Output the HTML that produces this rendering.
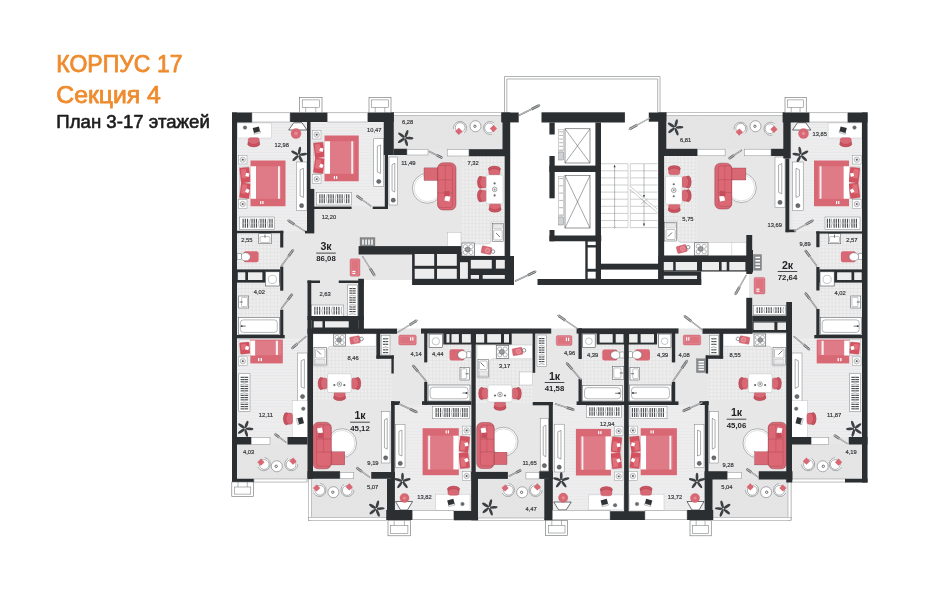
<!DOCTYPE html>
<html lang="ru"><head><meta charset="utf-8"><title>КОРПУС 17 — Секция 4</title>
<style>
html,body{margin:0;padding:0;background:#fff;}
body{width:941px;height:600px;overflow:hidden;font-family:"Liberation Sans",sans-serif;}
svg{display:block;will-change:transform;opacity:0.999;}
svg text{font-family:"Liberation Sans",sans-serif;}
</style></head><body>
<svg width="941" height="600" viewBox="0 0 941 600">
<defs>
<pattern id="plank" width="40" height="3.1" patternUnits="userSpaceOnUse"><rect width="40" height="3.1" fill="#ededee"/><path d="M0 0.2H40" stroke="#dfdfe0" stroke-width="0.4"/></pattern>
<pattern id="tile" width="3.6" height="3.6" patternUnits="userSpaceOnUse"><rect width="3.6" height="3.6" fill="#ededee"/><path d="M0 0.2H3.6M0.2 0V3.6" stroke="#d3d3d4" stroke-width="0.4"/></pattern>
<pattern id="hatch" width="2.6" height="2.6" patternUnits="userSpaceOnUse" patternTransform="rotate(-45)"><rect width="2.6" height="2.6" fill="#e3e3e4"/><line x1="0" y1="0.4" x2="2.6" y2="0.4" stroke="#e9e9ea" stroke-width="0.7"/></pattern>
</defs>
<rect x="0" y="0" width="941" height="600" fill="#ffffff"/>
<text x="56.3" y="71.5" font-size="23.3" font-weight="normal" text-anchor="start" fill="#ee8b2d" stroke="#ee8b2d" stroke-width="0.75" stroke-linejoin="round" textLength="126.2" lengthAdjust="spacingAndGlyphs">КОРПУС 17</text>
<text x="56.3" y="103.3" font-size="23.3" font-weight="normal" text-anchor="start" fill="#ee8b2d" stroke="#ee8b2d" stroke-width="0.75" stroke-linejoin="round" textLength="104.5" lengthAdjust="spacingAndGlyphs">Секция 4</text>
<text x="56.3" y="127.6" font-size="18.2" font-weight="normal" text-anchor="start" fill="#1d1d1d" stroke="#1d1d1d" stroke-width="0.6" stroke-linejoin="round" textLength="153.5" lengthAdjust="spacingAndGlyphs">План 3-17 этажей</text>
<path d="M232 112.5H867.5V482.5H792V520H310V482.5H232Z" fill="#e7e7e8"/>
<rect x="510" y="100" width="148" height="186" fill="#fff"/>
<rect x="363.9" y="285" width="382.4" height="43.5" fill="#fff"/>
<rect x="363.9" y="280" width="47.8" height="6" fill="#fff"/>
<rect x="701.2" y="271.5" width="47.8" height="26.5" fill="#fff"/>
<rect x="237" y="122" width="70" height="109" fill="url(#plank)"/>
<rect x="310.5" y="122" width="73.5" height="84" fill="url(#plank)"/>
<rect x="237" y="338.3" width="70.5" height="98.7" fill="url(#plank)"/>
<rect x="395" y="405" width="76.25" height="106" fill="url(#plank)"/>
<rect x="553" y="404.5" width="69.5" height="106.5" fill="url(#plank)"/>
<rect x="792.5" y="122" width="70" height="109" fill="url(#plank)"/>
<rect x="792" y="338.3" width="70.5" height="98.7" fill="url(#plank)"/>
<rect x="628.25" y="405" width="76.25" height="106" fill="url(#plank)"/>
<rect x="237" y="233" width="43" height="37" fill="url(#tile)"/>
<rect x="237" y="282.6" width="43.2" height="52.4" fill="url(#tile)"/>
<rect x="425.5" y="343" width="45.75" height="58" fill="url(#tile)"/>
<rect x="313" y="346" width="78.5" height="55" fill="url(#tile)"/>
<rect x="462" y="156" width="43" height="100" fill="url(#tile)"/>
<rect x="819.5" y="233" width="43" height="37" fill="url(#tile)"/>
<rect x="819.3" y="282.6" width="43.2" height="52.4" fill="url(#tile)"/>
<rect x="628.25" y="343" width="45.75" height="58" fill="url(#tile)"/>
<rect x="708" y="346" width="78.5" height="55" fill="url(#tile)"/>
<rect x="582" y="343" width="40.5" height="57" fill="url(#tile)"/>
<rect x="476" y="358" width="56.6" height="45" fill="url(#tile)"/>
<rect x="664" y="156" width="33" height="100" fill="url(#tile)"/>
<rect x="394" y="113" width="109" height="36" fill="url(#hatch)"/>
<rect x="666" y="113" width="118" height="36" fill="url(#hatch)"/>
<rect x="237" y="444.5" width="70.5" height="34.5" fill="url(#hatch)"/>
<rect x="311.5" y="479" width="75.5" height="38.5" fill="url(#hatch)"/>
<rect x="478" y="478.9" width="66.3" height="39.1" fill="url(#hatch)"/>
<rect x="792" y="444.5" width="70.5" height="34.5" fill="url(#hatch)"/>
<rect x="712.5" y="479" width="75.5" height="38.5" fill="url(#hatch)"/>
<g id="gL"><rect x="237.6" y="123" width="33.8" height="15" fill="#fff" stroke="#b9bbbd" stroke-width="0.4"/><g transform="translate(256.5,130) rotate(-15)"><rect x="-3.2" y="-2.8" width="6.4" height="5.6" fill="#2f3234"/><rect x="-3.2" y="2.2" width="6.4" height="1.4" fill="#fff" stroke="#4a4e50" stroke-width="0.3"/></g><circle cx="245" cy="127.6" r="1.8" fill="#6a6d6f" stroke="#4a4e50" stroke-width="0.3"/>
<g transform="translate(253.75,142.5) rotate(180)"><rect x="-5.6" y="-3.8" width="11.2" height="8.6" fill="#d96875" stroke="#a93f4c" stroke-width="0.35" rx="2.4"/><path d="M-6.2 -2Q0 -7 6.2 -2L5.4 0.2Q0 -4.2 -5.4 0.2Z" fill="#cf5360" stroke="#8f3541" stroke-width="0.35"/></g>
<path d="M288.7 130H307L302 122.75H293.7Z" fill="#fff" stroke="#2f3234" stroke-width="0.7"/>
<circle cx="296" cy="133.6" r="5" fill="#d96875" stroke="#c14f5d" stroke-width="0.3"/><circle cx="296" cy="133.6" r="1.75" fill="#e98a94"/>
<g transform="translate(298.75,155) rotate(10)"><ellipse cx="0" cy="-4.59" rx="1.35" ry="3.85" fill="#3d4042" transform="rotate(0)"/><ellipse cx="0" cy="-4.59" rx="1.35" ry="3.85" fill="#3d4042" transform="rotate(72)"/><ellipse cx="0" cy="-4.59" rx="1.35" ry="3.85" fill="#3d4042" transform="rotate(144)"/><ellipse cx="0" cy="-4.59" rx="1.35" ry="3.85" fill="#3d4042" transform="rotate(216)"/><ellipse cx="0" cy="-4.59" rx="1.35" ry="3.85" fill="#3d4042" transform="rotate(288)"/><circle r="1.5" fill="#35383a"/><circle r="0.7" fill="#fff"/></g>
<rect x="239.5" y="167" width="11" height="31.25" fill="#f4f4f5" stroke="#9a9c9e" stroke-width="0.35"/><g transform="translate(245.1,175.03) rotate(-6)"><rect x="-4.8" y="-7.48" width="9.6" height="14.95" fill="#d4525f" stroke="#b84452" stroke-width="0.3" rx="0.8"/><rect x="-3.6" y="-5.98" width="4.9" height="8.95" fill="#e0717c" rx="0.5"/><rect x="0.6" y="-1.8" width="3.4" height="3.6" fill="#fff" transform="rotate(20 2.3 0)"/></g><g transform="translate(245.1,190.62) rotate(7)"><rect x="-4.8" y="-7.48" width="9.6" height="14.95" fill="#d4525f" stroke="#b84452" stroke-width="0.3" rx="0.8"/><rect x="-3.6" y="-5.98" width="4.9" height="8.95" fill="#e0717c" rx="0.5"/><rect x="0.6" y="-1.8" width="3.4" height="3.6" fill="#fff" transform="rotate(20 2.3 0)"/></g><rect x="250.5" y="160.5" width="35" height="45.75" fill="#d96875"/><rect x="250.5" y="166.25" width="5.6" height="32.5" fill="#fff"/><rect x="256.1" y="166.25" width="25.15" height="32.5" fill="#df7b86"/><rect x="278" y="166.25" width="1.9" height="32.5" fill="#f8eeef"/><rect x="260.1" y="201.05" width="1.2" height="3" fill="#fff"/><rect x="262.3" y="201.05" width="1.2" height="3" fill="#fff"/><rect x="238.4" y="155.4" width="8.6" height="8.6" fill="#fff" stroke="#8a8c8e" stroke-width="0.45"/><circle cx="242.7" cy="159.7" r="2.7" fill="#fff" stroke="#6a6d6f" stroke-width="0.45"/><line x1="242.7" y1="159.7" x2="245.2" y2="159.7" stroke="#8a8c8e" stroke-width="0.3" /><line x1="242.7" y1="159.7" x2="243.95" y2="161.87" stroke="#8a8c8e" stroke-width="0.3" /><line x1="242.7" y1="159.7" x2="241.45" y2="161.87" stroke="#8a8c8e" stroke-width="0.3" /><line x1="242.7" y1="159.7" x2="240.2" y2="159.7" stroke="#8a8c8e" stroke-width="0.3" /><line x1="242.7" y1="159.7" x2="241.45" y2="157.53" stroke="#8a8c8e" stroke-width="0.3" /><line x1="242.7" y1="159.7" x2="243.95" y2="157.53" stroke="#8a8c8e" stroke-width="0.3" /><circle cx="242.7" cy="159.7" r="0.9" fill="#55595b"/><rect x="238.4" y="199.75" width="8.6" height="8.6" fill="#fff" stroke="#8a8c8e" stroke-width="0.45"/><circle cx="242.7" cy="204.05" r="2.7" fill="#fff" stroke="#6a6d6f" stroke-width="0.45"/><line x1="242.7" y1="204.05" x2="245.2" y2="204.05" stroke="#8a8c8e" stroke-width="0.3" /><line x1="242.7" y1="204.05" x2="243.95" y2="206.22" stroke="#8a8c8e" stroke-width="0.3" /><line x1="242.7" y1="204.05" x2="241.45" y2="206.22" stroke="#8a8c8e" stroke-width="0.3" /><line x1="242.7" y1="204.05" x2="240.2" y2="204.05" stroke="#8a8c8e" stroke-width="0.3" /><line x1="242.7" y1="204.05" x2="241.45" y2="201.88" stroke="#8a8c8e" stroke-width="0.3" /><line x1="242.7" y1="204.05" x2="243.95" y2="201.88" stroke="#8a8c8e" stroke-width="0.3" /><circle cx="242.7" cy="204.05" r="0.9" fill="#55595b"/>
<rect x="296.3" y="162" width="10.6" height="48.5" fill="#fff" stroke="#7d8082" stroke-width="0.5"/><path d="M300.12 169.76L303.51 168.31L303.51 197.41L300.12 195.95Z" fill="#fff" stroke="#55595b" stroke-width="0.5"/><circle cx="301.6" cy="205.65" r="2.1" fill="#6a6d6f" stroke="#35383a" stroke-width="0.4"/>
<rect x="239.5" y="217" width="35" height="12.5" fill="#fff" stroke="#7d8082" stroke-width="0.5"/><line x1="243.1" y1="218.8" x2="243.1" y2="227.7" stroke="#4a4e50" stroke-width="1.15" /><line x1="245.33" y1="218.8" x2="245.33" y2="227.7" stroke="#4a4e50" stroke-width="1.15" /><line x1="247.56" y1="218.8" x2="247.56" y2="227.7" stroke="#4a4e50" stroke-width="1.15" /><path d="M250.39 218.6Q248.89 223.25 250.39 227.9" fill="none" stroke="#55595b" stroke-width="0.5"/><line x1="252.02" y1="218.8" x2="252.02" y2="227.7" stroke="#4a4e50" stroke-width="1.15" /><line x1="254.25" y1="218.8" x2="254.25" y2="227.7" stroke="#4a4e50" stroke-width="1.15" /><line x1="256.48" y1="218.8" x2="256.48" y2="227.7" stroke="#4a4e50" stroke-width="1.15" /><path d="M259.32 218.6Q257.82 223.25 259.32 227.9" fill="none" stroke="#55595b" stroke-width="0.5"/><line x1="260.95" y1="218.8" x2="260.95" y2="227.7" stroke="#4a4e50" stroke-width="1.15" /><line x1="263.18" y1="218.8" x2="263.18" y2="227.7" stroke="#4a4e50" stroke-width="1.15" /><line x1="265.41" y1="218.8" x2="265.41" y2="227.7" stroke="#4a4e50" stroke-width="1.15" /><path d="M268.24 218.6Q266.74 223.25 268.24 227.9" fill="none" stroke="#55595b" stroke-width="0.5"/><line x1="269.87" y1="218.8" x2="269.87" y2="227.7" stroke="#4a4e50" stroke-width="1.15" /><line x1="272.1" y1="218.8" x2="272.1" y2="227.7" stroke="#4a4e50" stroke-width="1.15" /><line x1="240.5" y1="223.25" x2="273.5" y2="223.25" stroke="#d8d9da" stroke-width="0.5" />
<rect x="258.75" y="233.75" width="12.5" height="10" fill="#fff" stroke="#4a4e50" stroke-width="0.5"/><rect x="260.05" y="236.55" width="9.9" height="6" fill="#fff" stroke="#4a4e50" stroke-width="0.35" rx="1"/><line x1="265" y1="234.55" x2="265" y2="237.75" stroke="#3a3d3f" stroke-width="0.7" />
<rect x="243.6" y="251.3" width="15" height="11" fill="#d96875" rx="2.2"/><ellipse cx="245.6" cy="256.8" rx="4.8" ry="4" fill="#fff" stroke="#4a4e50" stroke-width="0.4"/><rect x="237.1" y="253.8" width="4.1" height="6" fill="#fff" stroke="#4a4e50" stroke-width="0.4"/>
<rect x="237" y="269.4" width="43.2" height="13.2" fill="#2b2f31"/>
<rect x="237.8" y="272.3" width="7.5" height="7.7" fill="#ededee"/>
<rect x="248" y="272.3" width="14.4" height="7.7" fill="#ededee"/>
<rect x="265.3" y="271.8" width="14.2" height="14.2" fill="#fff" stroke="#4a4e50" stroke-width="0.6"/><circle cx="272.4" cy="279.4" r="4.1" fill="#fff" stroke="#8a8c8e" stroke-width="0.5"/>
<g transform="rotate(-90 243.75 302)"><rect x="237.75" y="297" width="12" height="10" fill="#fff" stroke="#4a4e50" stroke-width="0.5"/><rect x="239.05" y="299.8" width="9.4" height="6" fill="#fff" stroke="#4a4e50" stroke-width="0.35" rx="1"/><line x1="243.75" y1="297.8" x2="243.75" y2="301" stroke="#3a3d3f" stroke-width="0.7" /></g>
<rect x="238.3" y="317.7" width="41" height="16.9" fill="#fff" stroke="#4a4e50" stroke-width="0.5"/><rect x="240.3" y="319.9" width="37" height="12.5" fill="#fff" stroke="#4a4e50" stroke-width="0.4" rx="3"/><line x1="240.8" y1="326.15" x2="245.8" y2="326.15" stroke="#3a3d3f" stroke-width="0.7" /><circle cx="241.8" cy="326.15" r="0.9" fill="#3a3d3f"/>
<rect x="239" y="339.8" width="11.3" height="15.8" fill="#f4f4f5" stroke="#9a9c9e" stroke-width="0.35"/>
<g transform="translate(244.8,348.2) rotate(-5)"><rect x="-4.8" y="-5.75" width="9.6" height="11.5" fill="#d4525f" stroke="#b84452" stroke-width="0.3" rx="0.8"/><rect x="-3.6" y="-4.25" width="4.9" height="5.5" fill="#e0717c" rx="0.5"/><rect x="0.6" y="-1.8" width="3.4" height="3.6" fill="#fff" transform="rotate(20 2.3 0)"/></g>
<rect x="250.3" y="339.6" width="32.5" height="23.8" fill="#d96875"/>
<rect x="250.3" y="340.6" width="5.1" height="14.9" fill="#fff"/>
<rect x="255.4" y="340.6" width="26.1" height="14.6" fill="#df7b86"/>
<rect x="275.8" y="340.8" width="2.2" height="14.1" fill="#f8eeef"/>
<rect x="258" y="358" width="1.3" height="3.2" fill="#fff"/><rect x="260.6" y="358" width="1.3" height="3.2" fill="#fff"/>
<rect x="238.5" y="356.9" width="8.6" height="8.6" fill="#fff" stroke="#8a8c8e" stroke-width="0.45"/><circle cx="242.8" cy="361.2" r="2.7" fill="#fff" stroke="#6a6d6f" stroke-width="0.45"/><line x1="242.8" y1="361.2" x2="245.3" y2="361.2" stroke="#8a8c8e" stroke-width="0.3" /><line x1="242.8" y1="361.2" x2="244.05" y2="363.37" stroke="#8a8c8e" stroke-width="0.3" /><line x1="242.8" y1="361.2" x2="241.55" y2="363.37" stroke="#8a8c8e" stroke-width="0.3" /><line x1="242.8" y1="361.2" x2="240.3" y2="361.2" stroke="#8a8c8e" stroke-width="0.3" /><line x1="242.8" y1="361.2" x2="241.55" y2="359.03" stroke="#8a8c8e" stroke-width="0.3" /><line x1="242.8" y1="361.2" x2="244.05" y2="359.03" stroke="#8a8c8e" stroke-width="0.3" /><circle cx="242.8" cy="361.2" r="0.9" fill="#55595b"/>
<rect x="238.75" y="373.75" width="11.25" height="37.5" fill="#fff" stroke="#7d8082" stroke-width="0.5"/><line x1="240.55" y1="377.35" x2="248.2" y2="377.35" stroke="#4a4e50" stroke-width="1.15" /><line x1="240.55" y1="379.6" x2="248.2" y2="379.6" stroke="#4a4e50" stroke-width="1.15" /><line x1="240.55" y1="381.85" x2="248.2" y2="381.85" stroke="#4a4e50" stroke-width="1.15" /><path d="M240.35 384.7Q244.38 383.2 248.4 384.7" fill="none" stroke="#55595b" stroke-width="0.5"/><line x1="240.55" y1="386.35" x2="248.2" y2="386.35" stroke="#4a4e50" stroke-width="1.15" /><line x1="240.55" y1="388.6" x2="248.2" y2="388.6" stroke="#4a4e50" stroke-width="1.15" /><line x1="240.55" y1="390.85" x2="248.2" y2="390.85" stroke="#4a4e50" stroke-width="1.15" /><path d="M240.35 393.7Q244.38 392.2 248.4 393.7" fill="none" stroke="#55595b" stroke-width="0.5"/><line x1="240.55" y1="395.35" x2="248.2" y2="395.35" stroke="#4a4e50" stroke-width="1.15" /><line x1="240.55" y1="397.6" x2="248.2" y2="397.6" stroke="#4a4e50" stroke-width="1.15" /><line x1="240.55" y1="399.85" x2="248.2" y2="399.85" stroke="#4a4e50" stroke-width="1.15" /><path d="M240.35 402.7Q244.38 401.2 248.4 402.7" fill="none" stroke="#55595b" stroke-width="0.5"/><line x1="240.55" y1="404.35" x2="248.2" y2="404.35" stroke="#4a4e50" stroke-width="1.15" /><line x1="240.55" y1="406.6" x2="248.2" y2="406.6" stroke="#4a4e50" stroke-width="1.15" /><line x1="240.55" y1="408.85" x2="248.2" y2="408.85" stroke="#4a4e50" stroke-width="1.15" /><line x1="244.38" y1="374.75" x2="244.38" y2="410.25" stroke="#d8d9da" stroke-width="0.5" />
<rect x="297.5" y="353" width="10.1" height="48.4" fill="#fff" stroke="#7d8082" stroke-width="0.5"/><path d="M301.14 360.74L304.37 359.29L304.37 388.33L301.14 386.88Z" fill="#fff" stroke="#55595b" stroke-width="0.5"/><circle cx="302.55" cy="396.56" r="2.1" fill="#6a6d6f" stroke="#35383a" stroke-width="0.4"/>
<rect x="292.2" y="400.8" width="15.8" height="36.7" fill="#fff" stroke="#b9bbbd" stroke-width="0.4"/><g transform="translate(300.5,420.8) rotate(75)"><rect x="-3.2" y="-2.8" width="6.4" height="5.6" fill="#2f3234"/><rect x="-3.2" y="2.2" width="6.4" height="1.4" fill="#fff" stroke="#4a4e50" stroke-width="0.3"/></g><circle cx="303.3" cy="408.7" r="1.8" fill="#6a6d6f" stroke="#4a4e50" stroke-width="0.3"/>
<g transform="translate(287.8,418.7) rotate(-90)"><rect x="-5.6" y="-3.8" width="11.2" height="8.6" fill="#d96875" stroke="#a93f4c" stroke-width="0.35" rx="2.4"/><path d="M-6.2 -2Q0 -7 6.2 -2L5.4 0.2Q0 -4.2 -5.4 0.2Z" fill="#cf5360" stroke="#8f3541" stroke-width="0.35"/></g>
<g transform="translate(245,428.75) rotate(20)"><ellipse cx="0" cy="-4.59" rx="1.35" ry="3.85" fill="#3d4042" transform="rotate(0)"/><ellipse cx="0" cy="-4.59" rx="1.35" ry="3.85" fill="#3d4042" transform="rotate(72)"/><ellipse cx="0" cy="-4.59" rx="1.35" ry="3.85" fill="#3d4042" transform="rotate(144)"/><ellipse cx="0" cy="-4.59" rx="1.35" ry="3.85" fill="#3d4042" transform="rotate(216)"/><ellipse cx="0" cy="-4.59" rx="1.35" ry="3.85" fill="#3d4042" transform="rotate(288)"/><circle r="1.5" fill="#35383a"/><circle r="0.7" fill="#fff"/></g>
<g transform="translate(263.8,464.2) rotate(125)"><path d="M-5.6 3.2A6.45 6.45 0 1 1 5.6 3.2" fill="#fff" stroke="#7d8082" stroke-width="0.6"/><circle cx="0" cy="-0.5" r="4.9" fill="#fff" stroke="#6a6d6f" stroke-width="0.5"/></g><path d="M260.93 458.59L264.53 462.19L260.93 465.79L257.33 462.19Z" fill="#d96875"/><g transform="translate(291.3,464.2) rotate(-150)"><path d="M-5.6 3.2A6.45 6.45 0 1 1 5.6 3.2" fill="#fff" stroke="#7d8082" stroke-width="0.6"/><circle cx="0" cy="-0.5" r="4.9" fill="#fff" stroke="#6a6d6f" stroke-width="0.5"/></g><path d="M293.05 457.57L296.65 461.17L293.05 464.77L289.45 461.17Z" fill="#d96875"/><circle cx="276.8" cy="466.3" r="5.5" fill="#fff" stroke="#6a6d6f" stroke-width="0.55"/><circle cx="276.2" cy="466.3" r="1.2" fill="#fff" stroke="#35383a" stroke-width="0.7"/></g>
<use href="#gL" transform="translate(1099.5,0) scale(-1,1)"/>
<g id="gA"><path d="M313 333.75H376.25V346.25H331Q327.5 346.25 327.5 350V366H313Z" fill="#fff" stroke="#a9abad" stroke-width="0.4"/>
<rect x="333.75" y="334" width="11.75" height="12" fill="#fff" stroke="#4a4e50" stroke-width="0.6"/><circle cx="337.04" cy="337.36" r="2" fill="#fff" stroke="#4a4e50" stroke-width="0.4"/><circle cx="342.21" cy="337.36" r="2" fill="#fff" stroke="#4a4e50" stroke-width="0.4"/><circle cx="337.04" cy="342.64" r="2" fill="#fff" stroke="#4a4e50" stroke-width="0.4"/><circle cx="342.21" cy="342.64" r="2" fill="#fff" stroke="#4a4e50" stroke-width="0.4"/><circle cx="339.04" cy="340" r="2.35" fill="#9a9c9e" stroke="#4a4e50" stroke-width="0.4"/>
<g transform="translate(355,340) rotate(-10)"><rect x="-5" y="-3.6" width="10" height="7.2" fill="#d96875" stroke="#b84452" stroke-width="0.3" rx="1"/><circle cx="1" cy="0" r="2.2" fill="#df7b86" stroke="#f3c3c8" stroke-width="0.4"/><circle cx="6.6" cy="0" r="1.8" fill="none" stroke="#55595b" stroke-width="0.6"/></g>
<rect x="314" y="347.5" width="12.5" height="17.5" fill="#fff" stroke="#4a4e50" stroke-width="0.5"/><rect x="315.5" y="349" width="9.5" height="9" fill="#fff" stroke="#4a4e50" stroke-width="0.35" rx="1"/><line x1="317" y1="350.5" x2="321" y2="354.5" stroke="#3a3d3f" stroke-width="0.7" /><rect x="315.5" y="359.5" width="9.5" height="4.5" fill="#e9e9ea" stroke="#9a9c9e" stroke-width="0.3"/>
<rect x="381.2" y="335.2" width="8.8" height="19.8" fill="#fff" stroke="#7d8082" stroke-width="0.5"/><line x1="383" y1="338.8" x2="388.2" y2="338.8" stroke="#4a4e50" stroke-width="1.15" /><line x1="383" y1="341.56" x2="388.2" y2="341.56" stroke="#4a4e50" stroke-width="1.15" /><line x1="383" y1="344.32" x2="388.2" y2="344.32" stroke="#4a4e50" stroke-width="1.15" /><path d="M382.8 347.68Q385.6 346.18 388.4 347.68" fill="none" stroke="#55595b" stroke-width="0.5"/><line x1="383" y1="349.84" x2="388.2" y2="349.84" stroke="#4a4e50" stroke-width="1.15" /><line x1="383" y1="352.6" x2="388.2" y2="352.6" stroke="#4a4e50" stroke-width="1.15" /><line x1="385.6" y1="336.2" x2="385.6" y2="354" stroke="#d8d9da" stroke-width="0.5" />
<rect x="398.75" y="335" width="17.5" height="10" fill="#dc7480" stroke="#c55764" stroke-width="0.35" rx="1.5"/><rect x="399.95" y="336.2" width="15.1" height="7.6" fill="none" stroke="#eaa3ab" stroke-width="0.35" rx="1"/><rect x="410.05" y="337.2" width="1.2" height="3.4" fill="#fff"/><rect x="412.25" y="337.2" width="1.2" height="3.4" fill="#fff"/>
<g transform="translate(322.5,383.5) rotate(-90)"><rect x="-5.6" y="-3.8" width="11.2" height="8.6" fill="#d96875" stroke="#a93f4c" stroke-width="0.35" rx="2.4"/><path d="M-6.2 -2Q0 -7 6.2 -2L5.4 0.2Q0 -4.2 -5.4 0.2Z" fill="#cf5360" stroke="#8f3541" stroke-width="0.35"/></g>
<g transform="translate(356.4,383.5) rotate(90)"><rect x="-5.6" y="-3.8" width="11.2" height="8.6" fill="#d96875" stroke="#a93f4c" stroke-width="0.35" rx="2.4"/><path d="M-6.2 -2Q0 -7 6.2 -2L5.4 0.2Q0 -4.2 -5.4 0.2Z" fill="#cf5360" stroke="#8f3541" stroke-width="0.35"/></g>
<g transform="translate(339.6,396.2) rotate(180)"><rect x="-5.6" y="-3.8" width="11.2" height="8.6" fill="#d96875" stroke="#a93f4c" stroke-width="0.35" rx="2.4"/><path d="M-6.2 -2Q0 -7 6.2 -2L5.4 0.2Q0 -4.2 -5.4 0.2Z" fill="#cf5360" stroke="#8f3541" stroke-width="0.35"/></g>
<rect x="327.5" y="373.75" width="23.75" height="18.75" fill="#fff" stroke="#a9abad" stroke-width="0.4" rx="1.5"/><circle cx="339.38" cy="384.12" r="2.3" fill="#fff" stroke="#4a4e50" stroke-width="0.5"/><circle cx="339.38" cy="384.12" r="1" fill="#8a8c8e"/><circle cx="334.38" cy="385.12" r="1.1" fill="#6a6d6f"/><circle cx="344.38" cy="385.12" r="1.1" fill="#6a6d6f"/>
<circle cx="342" cy="443.2" r="14.5" fill="#fff" stroke="#6a6d6f" stroke-width="0.5"/><circle cx="342" cy="443.2" r="12.8" fill="none" stroke="#a9abad" stroke-width="0.4"/><rect x="329.3" y="451.8" width="15.5" height="13.1" fill="#d96875" stroke="#8f3541" stroke-width="0.35"/><rect x="312.9" y="422.3" width="18.4" height="46.5" fill="#d96875" stroke="#8f3541" stroke-width="0.45" rx="5.5"/><rect x="316.5" y="424.9" width="14.5" height="41.3" fill="#dd6875" stroke="#8f3541" stroke-width="0.3" rx="2.2"/><line x1="316.5" y1="439.04" x2="331.3" y2="439.04" stroke="#8f3541" stroke-width="0.3" /><line x1="316.5" y1="452.06" x2="331.3" y2="452.06" stroke="#8f3541" stroke-width="0.3" /><line x1="323.6" y1="424.9" x2="323.6" y2="452.06" stroke="#8f3541" stroke-width="0.25" />
<rect x="317.5" y="428" width="5" height="5" fill="#fff" transform="rotate(-12 320 430.5)"/><rect x="318" y="433" width="5.5" height="5" fill="#c64e5c" transform="rotate(8 320 435)"/>
<rect x="381.3" y="411.7" width="8.7" height="51.3" fill="#fff" stroke="#7d8082" stroke-width="0.5"/><path d="M384.43 419.91L387.22 418.37L387.22 449.15L384.43 447.61Z" fill="#fff" stroke="#55595b" stroke-width="0.5"/><circle cx="385.65" cy="457.87" r="2.1" fill="#6a6d6f" stroke="#35383a" stroke-width="0.4"/>
<g transform="translate(319.5,490) rotate(125)"><path d="M-5.6 3.2A6.45 6.45 0 1 1 5.6 3.2" fill="#fff" stroke="#7d8082" stroke-width="0.6"/><circle cx="0" cy="-0.5" r="4.9" fill="#fff" stroke="#6a6d6f" stroke-width="0.5"/></g><path d="M316.63 484.39L320.23 487.99L316.63 491.59L313.03 487.99Z" fill="#d96875"/><g transform="translate(347.5,490) rotate(-150)"><path d="M-5.6 3.2A6.45 6.45 0 1 1 5.6 3.2" fill="#fff" stroke="#7d8082" stroke-width="0.6"/><circle cx="0" cy="-0.5" r="4.9" fill="#fff" stroke="#6a6d6f" stroke-width="0.5"/></g><path d="M349.25 483.37L352.85 486.97L349.25 490.57L345.65 486.97Z" fill="#d96875"/><circle cx="333.4" cy="492.2" r="5.5" fill="#fff" stroke="#6a6d6f" stroke-width="0.55"/><circle cx="332.8" cy="492.2" r="1.2" fill="#fff" stroke="#35383a" stroke-width="0.7"/>
<g transform="translate(376.25,508.75) rotate(15)"><ellipse cx="0" cy="-4.59" rx="1.35" ry="3.85" fill="#3d4042" transform="rotate(0)"/><ellipse cx="0" cy="-4.59" rx="1.35" ry="3.85" fill="#3d4042" transform="rotate(72)"/><ellipse cx="0" cy="-4.59" rx="1.35" ry="3.85" fill="#3d4042" transform="rotate(144)"/><ellipse cx="0" cy="-4.59" rx="1.35" ry="3.85" fill="#3d4042" transform="rotate(216)"/><ellipse cx="0" cy="-4.59" rx="1.35" ry="3.85" fill="#3d4042" transform="rotate(288)"/><circle r="1.5" fill="#35383a"/><circle r="0.7" fill="#fff"/></g>
<rect x="449.5" y="349.2" width="15" height="11.3" fill="#d96875" rx="2.2"/><ellipse cx="462.5" cy="354.85" rx="4.8" ry="4.15" fill="#fff" stroke="#4a4e50" stroke-width="0.4"/><rect x="466.9" y="351.85" width="4.1" height="6" fill="#fff" stroke="#4a4e50" stroke-width="0.4"/>
<g transform="rotate(90 465 373.75)"><rect x="458.75" y="369.25" width="12.5" height="9.5" fill="#fff" stroke="#4a4e50" stroke-width="0.5"/><rect x="460.05" y="372.05" width="9.9" height="5.5" fill="#fff" stroke="#4a4e50" stroke-width="0.35" rx="1"/><line x1="465" y1="370.05" x2="465" y2="373.25" stroke="#3a3d3f" stroke-width="0.7" /></g>
<rect x="428.1" y="385" width="41.9" height="16" fill="#fff" stroke="#4a4e50" stroke-width="0.5"/><rect x="430.1" y="387.2" width="37.9" height="11.6" fill="#fff" stroke="#4a4e50" stroke-width="0.4" rx="3"/><line x1="462.5" y1="393" x2="467.5" y2="393" stroke="#3a3d3f" stroke-width="0.7" /><circle cx="466.5" cy="393" r="0.9" fill="#3a3d3f"/>
<rect x="432.5" y="406.25" width="37" height="12.5" fill="#fff" stroke="#7d8082" stroke-width="0.5"/><line x1="436.1" y1="408.05" x2="436.1" y2="416.95" stroke="#4a4e50" stroke-width="1.15" /><line x1="438.31" y1="408.05" x2="438.31" y2="416.95" stroke="#4a4e50" stroke-width="1.15" /><line x1="440.53" y1="408.05" x2="440.53" y2="416.95" stroke="#4a4e50" stroke-width="1.15" /><path d="M443.34 407.85Q441.84 412.5 443.34 417.15" fill="none" stroke="#55595b" stroke-width="0.5"/><line x1="444.96" y1="408.05" x2="444.96" y2="416.95" stroke="#4a4e50" stroke-width="1.15" /><line x1="447.17" y1="408.05" x2="447.17" y2="416.95" stroke="#4a4e50" stroke-width="1.15" /><line x1="449.39" y1="408.05" x2="449.39" y2="416.95" stroke="#4a4e50" stroke-width="1.15" /><path d="M452.2 407.85Q450.7 412.5 452.2 417.15" fill="none" stroke="#55595b" stroke-width="0.5"/><line x1="453.81" y1="408.05" x2="453.81" y2="416.95" stroke="#4a4e50" stroke-width="1.15" /><line x1="456.03" y1="408.05" x2="456.03" y2="416.95" stroke="#4a4e50" stroke-width="1.15" /><line x1="458.24" y1="408.05" x2="458.24" y2="416.95" stroke="#4a4e50" stroke-width="1.15" /><path d="M461.06 407.85Q459.56 412.5 461.06 417.15" fill="none" stroke="#55595b" stroke-width="0.5"/><line x1="462.67" y1="408.05" x2="462.67" y2="416.95" stroke="#4a4e50" stroke-width="1.15" /><line x1="464.89" y1="408.05" x2="464.89" y2="416.95" stroke="#4a4e50" stroke-width="1.15" /><line x1="467.1" y1="408.05" x2="467.1" y2="416.95" stroke="#4a4e50" stroke-width="1.15" /><line x1="433.5" y1="412.5" x2="468.5" y2="412.5" stroke="#d8d9da" stroke-width="0.5" />
<g transform="translate(0,903.4) scale(1,-1)"><rect x="458.8" y="434.7" width="11" height="32.5" fill="#f4f4f5" stroke="#9a9c9e" stroke-width="0.35"/><g transform="translate(464.2,443.06) rotate(6)"><rect x="-4.8" y="-7.76" width="9.6" height="15.53" fill="#d4525f" stroke="#b84452" stroke-width="0.3" rx="0.8"/><rect x="-3.6" y="-6.26" width="4.9" height="9.53" fill="#e0717c" rx="0.5"/><rect x="0.6" y="-1.8" width="3.4" height="3.6" fill="#fff" transform="rotate(20 2.3 0)"/></g><g transform="translate(464.2,459.26) rotate(-7)"><rect x="-4.8" y="-7.76" width="9.6" height="15.53" fill="#d4525f" stroke="#b84452" stroke-width="0.3" rx="0.8"/><rect x="-3.6" y="-6.26" width="4.9" height="9.53" fill="#e0717c" rx="0.5"/><rect x="0.6" y="-1.8" width="3.4" height="3.6" fill="#fff" transform="rotate(20 2.3 0)"/></g><rect x="422.6" y="428.2" width="36.2" height="47" fill="#d96875"/><rect x="453.2" y="433.95" width="5.6" height="33.75" fill="#fff"/><rect x="426.85" y="433.95" width="26.35" height="33.75" fill="#df7b86"/><rect x="428.2" y="433.95" width="1.9" height="33.75" fill="#f8eeef"/><rect x="445.62" y="470" width="1.2" height="3" fill="#fff"/><rect x="447.82" y="470" width="1.2" height="3" fill="#fff"/><rect x="462.3" y="423.1" width="8.6" height="8.6" fill="#fff" stroke="#8a8c8e" stroke-width="0.45"/><circle cx="466.6" cy="427.4" r="2.7" fill="#fff" stroke="#6a6d6f" stroke-width="0.45"/><line x1="466.6" y1="427.4" x2="469.1" y2="427.4" stroke="#8a8c8e" stroke-width="0.3" /><line x1="466.6" y1="427.4" x2="467.85" y2="429.57" stroke="#8a8c8e" stroke-width="0.3" /><line x1="466.6" y1="427.4" x2="465.35" y2="429.57" stroke="#8a8c8e" stroke-width="0.3" /><line x1="466.6" y1="427.4" x2="464.1" y2="427.4" stroke="#8a8c8e" stroke-width="0.3" /><line x1="466.6" y1="427.4" x2="465.35" y2="425.23" stroke="#8a8c8e" stroke-width="0.3" /><line x1="466.6" y1="427.4" x2="467.85" y2="425.23" stroke="#8a8c8e" stroke-width="0.3" /><circle cx="466.6" cy="427.4" r="0.9" fill="#55595b"/><rect x="462.3" y="468.7" width="8.6" height="8.6" fill="#fff" stroke="#8a8c8e" stroke-width="0.45"/><circle cx="466.6" cy="473" r="2.7" fill="#fff" stroke="#6a6d6f" stroke-width="0.45"/><line x1="466.6" y1="473" x2="469.1" y2="473" stroke="#8a8c8e" stroke-width="0.3" /><line x1="466.6" y1="473" x2="467.85" y2="475.17" stroke="#8a8c8e" stroke-width="0.3" /><line x1="466.6" y1="473" x2="465.35" y2="475.17" stroke="#8a8c8e" stroke-width="0.3" /><line x1="466.6" y1="473" x2="464.1" y2="473" stroke="#8a8c8e" stroke-width="0.3" /><line x1="466.6" y1="473" x2="465.35" y2="470.83" stroke="#8a8c8e" stroke-width="0.3" /><line x1="466.6" y1="473" x2="467.85" y2="470.83" stroke="#8a8c8e" stroke-width="0.3" /><circle cx="466.6" cy="473" r="0.9" fill="#55595b"/></g>
<rect x="395.5" y="424.5" width="9.5" height="43.2" fill="#fff" stroke="#7d8082" stroke-width="0.5"/><path d="M398.92 431.41L401.96 430.12L401.96 456.04L398.92 454.74Z" fill="#fff" stroke="#55595b" stroke-width="0.5"/><circle cx="400.25" cy="463.38" r="2.1" fill="#6a6d6f" stroke="#35383a" stroke-width="0.4"/>
<g transform="translate(402.5,481.25) rotate(0)"><ellipse cx="0" cy="-4.59" rx="1.35" ry="3.85" fill="#3d4042" transform="rotate(0)"/><ellipse cx="0" cy="-4.59" rx="1.35" ry="3.85" fill="#3d4042" transform="rotate(72)"/><ellipse cx="0" cy="-4.59" rx="1.35" ry="3.85" fill="#3d4042" transform="rotate(144)"/><ellipse cx="0" cy="-4.59" rx="1.35" ry="3.85" fill="#3d4042" transform="rotate(216)"/><ellipse cx="0" cy="-4.59" rx="1.35" ry="3.85" fill="#3d4042" transform="rotate(288)"/><circle r="1.5" fill="#35383a"/><circle r="0.7" fill="#fff"/></g>
<path d="M395.5 501.5H412.5L407.5 510H400.5Z" fill="#fff" stroke="#2f3234" stroke-width="0.7"/>
<circle cx="404.5" cy="498" r="4.6" fill="#d96875" stroke="#c14f5d" stroke-width="0.3"/><circle cx="404.5" cy="498" r="1.61" fill="#e98a94"/>
<rect x="435.5" y="494.2" width="34.5" height="16" fill="#fff" stroke="#b9bbbd" stroke-width="0.4"/><g transform="translate(451,502.3) rotate(-15)"><rect x="-3.2" y="-2.8" width="6.4" height="5.6" fill="#2f3234"/><rect x="-3.2" y="2.2" width="6.4" height="1.4" fill="#fff" stroke="#4a4e50" stroke-width="0.3"/></g><circle cx="462.5" cy="504" r="1.8" fill="#6a6d6f" stroke="#4a4e50" stroke-width="0.3"/>
<g transform="translate(453.5,490.5) rotate(0)"><rect x="-5.6" y="-3.8" width="11.2" height="8.6" fill="#d96875" stroke="#a93f4c" stroke-width="0.35" rx="2.4"/><path d="M-6.2 -2Q0 -7 6.2 -2L5.4 0.2Q0 -4.2 -5.4 0.2Z" fill="#cf5360" stroke="#8f3541" stroke-width="0.35"/></g></g>
<use href="#gA" transform="translate(1099.5,0) scale(-1,1)"/>
<path d="M477 345H532.5V358.75H493Q489.5 358.75 489.5 362.5V378H477Z" fill="#fff" stroke="#a9abad" stroke-width="0.4"/>
<rect x="496.25" y="345.3" width="12.5" height="13.2" fill="#fff" stroke="#4a4e50" stroke-width="0.6"/><circle cx="499.75" cy="349" r="2.12" fill="#fff" stroke="#4a4e50" stroke-width="0.4"/><circle cx="505.25" cy="349" r="2.12" fill="#fff" stroke="#4a4e50" stroke-width="0.4"/><circle cx="499.75" cy="354.8" r="2.12" fill="#fff" stroke="#4a4e50" stroke-width="0.4"/><circle cx="505.25" cy="354.8" r="2.12" fill="#fff" stroke="#4a4e50" stroke-width="0.4"/><circle cx="501.88" cy="351.9" r="2.5" fill="#9a9c9e" stroke="#4a4e50" stroke-width="0.4"/>
<g transform="translate(517.5,351.5) rotate(-10)"><rect x="-5" y="-3.6" width="10" height="7.2" fill="#d96875" stroke="#b84452" stroke-width="0.3" rx="1"/><circle cx="1" cy="0" r="2.2" fill="#df7b86" stroke="#f3c3c8" stroke-width="0.4"/><circle cx="6.6" cy="0" r="1.8" fill="none" stroke="#55595b" stroke-width="0.6"/></g>
<rect x="478" y="359.5" width="10.5" height="17.5" fill="#fff" stroke="#4a4e50" stroke-width="0.5"/><rect x="479.3" y="361" width="7.9" height="8.5" fill="#fff" stroke="#4a4e50" stroke-width="0.35" rx="1"/><line x1="480.5" y1="362.5" x2="484.5" y2="366.5" stroke="#3a3d3f" stroke-width="0.7" /><rect x="479.3" y="371" width="7.9" height="5" fill="#e9e9ea" stroke="#9a9c9e" stroke-width="0.3"/>
<rect x="519.5" y="372" width="13" height="13" fill="#fff" stroke="#a9abad" stroke-width="0.4"/>
<rect x="537" y="335" width="9.25" height="31.25" fill="#fff" stroke="#7d8082" stroke-width="0.5"/><line x1="538.8" y1="338.6" x2="544.45" y2="338.6" stroke="#4a4e50" stroke-width="1.15" /><line x1="538.8" y1="340.9" x2="544.45" y2="340.9" stroke="#4a4e50" stroke-width="1.15" /><line x1="538.8" y1="343.19" x2="544.45" y2="343.19" stroke="#4a4e50" stroke-width="1.15" /><path d="M538.6 346.09Q541.62 344.59 544.65 346.09" fill="none" stroke="#55595b" stroke-width="0.5"/><line x1="538.8" y1="347.78" x2="544.45" y2="347.78" stroke="#4a4e50" stroke-width="1.15" /><line x1="538.8" y1="350.08" x2="544.45" y2="350.08" stroke="#4a4e50" stroke-width="1.15" /><line x1="538.8" y1="352.37" x2="544.45" y2="352.37" stroke="#4a4e50" stroke-width="1.15" /><path d="M538.6 355.27Q541.62 353.77 544.65 355.27" fill="none" stroke="#55595b" stroke-width="0.5"/><line x1="538.8" y1="356.96" x2="544.45" y2="356.96" stroke="#4a4e50" stroke-width="1.15" /><line x1="538.8" y1="359.26" x2="544.45" y2="359.26" stroke="#4a4e50" stroke-width="1.15" /><line x1="538.8" y1="361.55" x2="544.45" y2="361.55" stroke="#4a4e50" stroke-width="1.15" /><path d="M538.6 364.45Q541.62 362.95 544.65 364.45" fill="none" stroke="#55595b" stroke-width="0.5"/><line x1="541.62" y1="336" x2="541.62" y2="365.25" stroke="#d8d9da" stroke-width="0.5" />
<rect x="556.25" y="335.5" width="15.75" height="10" fill="#dc7480" stroke="#c55764" stroke-width="0.35" rx="1.5"/><rect x="557.45" y="336.7" width="13.35" height="7.6" fill="none" stroke="#eaa3ab" stroke-width="0.35" rx="1"/><rect x="565.8" y="337.7" width="1.2" height="3.4" fill="#fff"/><rect x="568" y="337.7" width="1.2" height="3.4" fill="#fff"/>
<g transform="translate(483,393.5) rotate(-90)"><rect x="-5.6" y="-3.8" width="11.2" height="8.6" fill="#d96875" stroke="#a93f4c" stroke-width="0.35" rx="2.4"/><path d="M-6.2 -2Q0 -7 6.2 -2L5.4 0.2Q0 -4.2 -5.4 0.2Z" fill="#cf5360" stroke="#8f3541" stroke-width="0.35"/></g>
<g transform="translate(517,393.5) rotate(90)"><rect x="-5.6" y="-3.8" width="11.2" height="8.6" fill="#d96875" stroke="#a93f4c" stroke-width="0.35" rx="2.4"/><path d="M-6.2 -2Q0 -7 6.2 -2L5.4 0.2Q0 -4.2 -5.4 0.2Z" fill="#cf5360" stroke="#8f3541" stroke-width="0.35"/></g>
<g transform="translate(500,406) rotate(180)"><rect x="-5.6" y="-3.8" width="11.2" height="8.6" fill="#d96875" stroke="#a93f4c" stroke-width="0.35" rx="2.4"/><path d="M-6.2 -2Q0 -7 6.2 -2L5.4 0.2Q0 -4.2 -5.4 0.2Z" fill="#cf5360" stroke="#8f3541" stroke-width="0.35"/></g>
<rect x="488" y="385" width="24" height="17" fill="#fff" stroke="#a9abad" stroke-width="0.4" rx="1.5"/><circle cx="500" cy="394.5" r="2.3" fill="#fff" stroke="#4a4e50" stroke-width="0.5"/><circle cx="500" cy="394.5" r="1" fill="#8a8c8e"/><circle cx="495" cy="395.5" r="1.1" fill="#6a6d6f"/><circle cx="505" cy="395.5" r="1.1" fill="#6a6d6f"/>
<circle cx="503.5" cy="441.7" r="14.5" fill="#fff" stroke="#6a6d6f" stroke-width="0.5"/><circle cx="503.5" cy="441.7" r="12.8" fill="none" stroke="#a9abad" stroke-width="0.4"/><rect x="492.2" y="452.2" width="14.8" height="12.4" fill="#d96875" stroke="#8f3541" stroke-width="0.35"/><rect x="476.7" y="422.5" width="17.5" height="46" fill="#d96875" stroke="#8f3541" stroke-width="0.45" rx="5.5"/><rect x="480.3" y="425.1" width="13.6" height="40.8" fill="#dd6875" stroke="#8f3541" stroke-width="0.3" rx="2.2"/><line x1="480.3" y1="439.06" x2="494.2" y2="439.06" stroke="#8f3541" stroke-width="0.3" /><line x1="480.3" y1="451.94" x2="494.2" y2="451.94" stroke="#8f3541" stroke-width="0.3" /><line x1="486.95" y1="425.1" x2="486.95" y2="451.94" stroke="#8f3541" stroke-width="0.25" />
<rect x="481" y="428" width="5" height="5" fill="#fff" transform="rotate(-12 483 430.5)"/><rect x="481.5" y="433" width="5.5" height="5" fill="#c64e5c" transform="rotate(8 484 435)"/>
<rect x="540.2" y="418.3" width="8.4" height="52.6" fill="#fff" stroke="#7d8082" stroke-width="0.5"/><path d="M543.22 426.72L545.91 425.14L545.91 456.7L543.22 455.12Z" fill="#fff" stroke="#55595b" stroke-width="0.5"/><circle cx="544.4" cy="465.64" r="2.1" fill="#6a6d6f" stroke="#35383a" stroke-width="0.4"/>
<g transform="translate(508,490) rotate(125)"><path d="M-5.6 3.2A6.45 6.45 0 1 1 5.6 3.2" fill="#fff" stroke="#7d8082" stroke-width="0.6"/><circle cx="0" cy="-0.5" r="4.9" fill="#fff" stroke="#6a6d6f" stroke-width="0.5"/></g><path d="M505.13 484.39L508.73 487.99L505.13 491.59L501.53 487.99Z" fill="#d96875"/><g transform="translate(535.6,490) rotate(-150)"><path d="M-5.6 3.2A6.45 6.45 0 1 1 5.6 3.2" fill="#fff" stroke="#7d8082" stroke-width="0.6"/><circle cx="0" cy="-0.5" r="4.9" fill="#fff" stroke="#6a6d6f" stroke-width="0.5"/></g><path d="M537.35 483.37L540.95 486.97L537.35 490.57L533.75 486.97Z" fill="#d96875"/><circle cx="522.2" cy="492.3" r="5.5" fill="#fff" stroke="#6a6d6f" stroke-width="0.55"/><circle cx="521.6" cy="492.3" r="1.2" fill="#fff" stroke="#35383a" stroke-width="0.7"/>
<g transform="translate(489.25,507.5) rotate(15)"><ellipse cx="0" cy="-4.59" rx="1.35" ry="3.85" fill="#3d4042" transform="rotate(0)"/><ellipse cx="0" cy="-4.59" rx="1.35" ry="3.85" fill="#3d4042" transform="rotate(72)"/><ellipse cx="0" cy="-4.59" rx="1.35" ry="3.85" fill="#3d4042" transform="rotate(144)"/><ellipse cx="0" cy="-4.59" rx="1.35" ry="3.85" fill="#3d4042" transform="rotate(216)"/><ellipse cx="0" cy="-4.59" rx="1.35" ry="3.85" fill="#3d4042" transform="rotate(288)"/><circle r="1.5" fill="#35383a"/><circle r="0.7" fill="#fff"/></g>
<rect x="554.2" y="424.2" width="10" height="47.8" fill="#fff" stroke="#7d8082" stroke-width="0.5"/><path d="M557.8 431.85L561 430.41L561 459.09L557.8 457.66Z" fill="#fff" stroke="#55595b" stroke-width="0.5"/><circle cx="559.2" cy="467.22" r="2.1" fill="#6a6d6f" stroke="#35383a" stroke-width="0.4"/>
<g transform="translate(561.25,480.5) rotate(0)"><ellipse cx="0" cy="-4.59" rx="1.35" ry="3.85" fill="#3d4042" transform="rotate(0)"/><ellipse cx="0" cy="-4.59" rx="1.35" ry="3.85" fill="#3d4042" transform="rotate(72)"/><ellipse cx="0" cy="-4.59" rx="1.35" ry="3.85" fill="#3d4042" transform="rotate(144)"/><ellipse cx="0" cy="-4.59" rx="1.35" ry="3.85" fill="#3d4042" transform="rotate(216)"/><ellipse cx="0" cy="-4.59" rx="1.35" ry="3.85" fill="#3d4042" transform="rotate(288)"/><circle r="1.5" fill="#35383a"/><circle r="0.7" fill="#fff"/></g>
<path d="M553.7 502H571.2L566.2 509.9H558.7Z" fill="#fff" stroke="#2f3234" stroke-width="0.7"/>
<circle cx="563.2" cy="497.8" r="4.7" fill="#d96875" stroke="#c14f5d" stroke-width="0.3"/><circle cx="563.2" cy="497.8" r="1.65" fill="#e98a94"/>
<rect x="586.25" y="405.5" width="35" height="12" fill="#fff" stroke="#7d8082" stroke-width="0.5"/><line x1="589.85" y1="407.3" x2="589.85" y2="415.7" stroke="#4a4e50" stroke-width="1.15" /><line x1="592.08" y1="407.3" x2="592.08" y2="415.7" stroke="#4a4e50" stroke-width="1.15" /><line x1="594.31" y1="407.3" x2="594.31" y2="415.7" stroke="#4a4e50" stroke-width="1.15" /><path d="M597.14 407.1Q595.64 411.5 597.14 415.9" fill="none" stroke="#55595b" stroke-width="0.5"/><line x1="598.77" y1="407.3" x2="598.77" y2="415.7" stroke="#4a4e50" stroke-width="1.15" /><line x1="601" y1="407.3" x2="601" y2="415.7" stroke="#4a4e50" stroke-width="1.15" /><line x1="603.23" y1="407.3" x2="603.23" y2="415.7" stroke="#4a4e50" stroke-width="1.15" /><path d="M606.07 407.1Q604.57 411.5 606.07 415.9" fill="none" stroke="#55595b" stroke-width="0.5"/><line x1="607.7" y1="407.3" x2="607.7" y2="415.7" stroke="#4a4e50" stroke-width="1.15" /><line x1="609.93" y1="407.3" x2="609.93" y2="415.7" stroke="#4a4e50" stroke-width="1.15" /><line x1="612.16" y1="407.3" x2="612.16" y2="415.7" stroke="#4a4e50" stroke-width="1.15" /><path d="M614.99 407.1Q613.49 411.5 614.99 415.9" fill="none" stroke="#55595b" stroke-width="0.5"/><line x1="616.62" y1="407.3" x2="616.62" y2="415.7" stroke="#4a4e50" stroke-width="1.15" /><line x1="618.85" y1="407.3" x2="618.85" y2="415.7" stroke="#4a4e50" stroke-width="1.15" /><line x1="587.25" y1="411.5" x2="620.25" y2="411.5" stroke="#d8d9da" stroke-width="0.5" />
<g transform="translate(0,904.4) scale(1,-1)"><rect x="610.9" y="435.4" width="11" height="32.1" fill="#f4f4f5" stroke="#9a9c9e" stroke-width="0.35"/><g transform="translate(616.3,443.65) rotate(6)"><rect x="-4.8" y="-7.67" width="9.6" height="15.34" fill="#d4525f" stroke="#b84452" stroke-width="0.3" rx="0.8"/><rect x="-3.6" y="-6.17" width="4.9" height="9.34" fill="#e0717c" rx="0.5"/><rect x="0.6" y="-1.8" width="3.4" height="3.6" fill="#fff" transform="rotate(20 2.3 0)"/></g><g transform="translate(616.3,459.66) rotate(-7)"><rect x="-4.8" y="-7.67" width="9.6" height="15.34" fill="#d4525f" stroke="#b84452" stroke-width="0.3" rx="0.8"/><rect x="-3.6" y="-6.17" width="4.9" height="9.34" fill="#e0717c" rx="0.5"/><rect x="0.6" y="-1.8" width="3.4" height="3.6" fill="#fff" transform="rotate(20 2.3 0)"/></g><rect x="575.9" y="428.9" width="35" height="46.6" fill="#d96875"/><rect x="605.3" y="434.65" width="5.6" height="33.35" fill="#fff"/><rect x="580.15" y="434.65" width="25.15" height="33.35" fill="#df7b86"/><rect x="581.5" y="434.65" width="1.9" height="33.35" fill="#f8eeef"/><rect x="598.1" y="470.3" width="1.2" height="3" fill="#fff"/><rect x="600.3" y="470.3" width="1.2" height="3" fill="#fff"/><rect x="614.4" y="423.8" width="8.6" height="8.6" fill="#fff" stroke="#8a8c8e" stroke-width="0.45"/><circle cx="618.7" cy="428.1" r="2.7" fill="#fff" stroke="#6a6d6f" stroke-width="0.45"/><line x1="618.7" y1="428.1" x2="621.2" y2="428.1" stroke="#8a8c8e" stroke-width="0.3" /><line x1="618.7" y1="428.1" x2="619.95" y2="430.27" stroke="#8a8c8e" stroke-width="0.3" /><line x1="618.7" y1="428.1" x2="617.45" y2="430.27" stroke="#8a8c8e" stroke-width="0.3" /><line x1="618.7" y1="428.1" x2="616.2" y2="428.1" stroke="#8a8c8e" stroke-width="0.3" /><line x1="618.7" y1="428.1" x2="617.45" y2="425.93" stroke="#8a8c8e" stroke-width="0.3" /><line x1="618.7" y1="428.1" x2="619.95" y2="425.93" stroke="#8a8c8e" stroke-width="0.3" /><circle cx="618.7" cy="428.1" r="0.9" fill="#55595b"/><rect x="614.4" y="469" width="8.6" height="8.6" fill="#fff" stroke="#8a8c8e" stroke-width="0.45"/><circle cx="618.7" cy="473.3" r="2.7" fill="#fff" stroke="#6a6d6f" stroke-width="0.45"/><line x1="618.7" y1="473.3" x2="621.2" y2="473.3" stroke="#8a8c8e" stroke-width="0.3" /><line x1="618.7" y1="473.3" x2="619.95" y2="475.47" stroke="#8a8c8e" stroke-width="0.3" /><line x1="618.7" y1="473.3" x2="617.45" y2="475.47" stroke="#8a8c8e" stroke-width="0.3" /><line x1="618.7" y1="473.3" x2="616.2" y2="473.3" stroke="#8a8c8e" stroke-width="0.3" /><line x1="618.7" y1="473.3" x2="617.45" y2="471.13" stroke="#8a8c8e" stroke-width="0.3" /><line x1="618.7" y1="473.3" x2="619.95" y2="471.13" stroke="#8a8c8e" stroke-width="0.3" /><circle cx="618.7" cy="473.3" r="0.9" fill="#55595b"/></g>
<rect x="588.7" y="494.9" width="35.1" height="15" fill="#fff" stroke="#b9bbbd" stroke-width="0.4"/><g transform="translate(604.4,502.4) rotate(-15)"><rect x="-3.2" y="-2.8" width="6.4" height="5.6" fill="#2f3234"/><rect x="-3.2" y="2.2" width="6.4" height="1.4" fill="#fff" stroke="#4a4e50" stroke-width="0.3"/></g><circle cx="615.1" cy="505.2" r="1.8" fill="#6a6d6f" stroke="#4a4e50" stroke-width="0.3"/>
<g transform="translate(606.3,491) rotate(0)"><rect x="-5.6" y="-3.8" width="11.2" height="8.6" fill="#d96875" stroke="#a93f4c" stroke-width="0.35" rx="2.4"/><path d="M-6.2 -2Q0 -7 6.2 -2L5.4 0.2Q0 -4.2 -5.4 0.2Z" fill="#cf5360" stroke="#8f3541" stroke-width="0.35"/></g>
<rect x="602.3" y="349.5" width="15.2" height="11" fill="#d96875" rx="2.2"/><ellipse cx="615.5" cy="355" rx="4.8" ry="4" fill="#fff" stroke="#4a4e50" stroke-width="0.4"/><rect x="619.9" y="352" width="4.1" height="6" fill="#fff" stroke="#4a4e50" stroke-width="0.4"/>
<g transform="rotate(90 618.2 373)"><rect x="611.8" y="367.4" width="12.8" height="11.2" fill="#fff" stroke="#4a4e50" stroke-width="0.5"/><rect x="613.1" y="370.2" width="10.2" height="7.2" fill="#fff" stroke="#4a4e50" stroke-width="0.35" rx="1"/><line x1="618.2" y1="368.2" x2="618.2" y2="371.4" stroke="#3a3d3f" stroke-width="0.7" /></g>
<rect x="582.5" y="385.5" width="40.2" height="15.5" fill="#fff" stroke="#4a4e50" stroke-width="0.5"/><rect x="584.5" y="387.7" width="36.2" height="11.1" fill="#fff" stroke="#4a4e50" stroke-width="0.4" rx="3"/><line x1="615.2" y1="393.25" x2="620.2" y2="393.25" stroke="#3a3d3f" stroke-width="0.7" /><circle cx="619.2" cy="393.25" r="0.9" fill="#3a3d3f"/>
<rect x="313.5" y="142" width="11" height="31.25" fill="#f4f4f5" stroke="#9a9c9e" stroke-width="0.35"/><g transform="translate(319.1,150.03) rotate(-6)"><rect x="-4.8" y="-7.48" width="9.6" height="14.95" fill="#d4525f" stroke="#b84452" stroke-width="0.3" rx="0.8"/><rect x="-3.6" y="-5.98" width="4.9" height="8.95" fill="#e0717c" rx="0.5"/><rect x="0.6" y="-1.8" width="3.4" height="3.6" fill="#fff" transform="rotate(20 2.3 0)"/></g><g transform="translate(319.1,165.62) rotate(7)"><rect x="-4.8" y="-7.48" width="9.6" height="14.95" fill="#d4525f" stroke="#b84452" stroke-width="0.3" rx="0.8"/><rect x="-3.6" y="-5.98" width="4.9" height="8.95" fill="#e0717c" rx="0.5"/><rect x="0.6" y="-1.8" width="3.4" height="3.6" fill="#fff" transform="rotate(20 2.3 0)"/></g><rect x="324.5" y="135.5" width="34.25" height="45.75" fill="#d96875"/><rect x="324.5" y="141.25" width="5.6" height="32.5" fill="#fff"/><rect x="330.1" y="141.25" width="24.4" height="32.5" fill="#df7b86"/><rect x="351.25" y="141.25" width="1.9" height="32.5" fill="#f8eeef"/><rect x="333.86" y="176.05" width="1.2" height="3" fill="#fff"/><rect x="336.06" y="176.05" width="1.2" height="3" fill="#fff"/><rect x="312.4" y="130.4" width="8.6" height="8.6" fill="#fff" stroke="#8a8c8e" stroke-width="0.45"/><circle cx="316.7" cy="134.7" r="2.7" fill="#fff" stroke="#6a6d6f" stroke-width="0.45"/><line x1="316.7" y1="134.7" x2="319.2" y2="134.7" stroke="#8a8c8e" stroke-width="0.3" /><line x1="316.7" y1="134.7" x2="317.95" y2="136.87" stroke="#8a8c8e" stroke-width="0.3" /><line x1="316.7" y1="134.7" x2="315.45" y2="136.87" stroke="#8a8c8e" stroke-width="0.3" /><line x1="316.7" y1="134.7" x2="314.2" y2="134.7" stroke="#8a8c8e" stroke-width="0.3" /><line x1="316.7" y1="134.7" x2="315.45" y2="132.53" stroke="#8a8c8e" stroke-width="0.3" /><line x1="316.7" y1="134.7" x2="317.95" y2="132.53" stroke="#8a8c8e" stroke-width="0.3" /><circle cx="316.7" cy="134.7" r="0.9" fill="#55595b"/><rect x="312.4" y="174.75" width="8.6" height="8.6" fill="#fff" stroke="#8a8c8e" stroke-width="0.45"/><circle cx="316.7" cy="179.05" r="2.7" fill="#fff" stroke="#6a6d6f" stroke-width="0.45"/><line x1="316.7" y1="179.05" x2="319.2" y2="179.05" stroke="#8a8c8e" stroke-width="0.3" /><line x1="316.7" y1="179.05" x2="317.95" y2="181.22" stroke="#8a8c8e" stroke-width="0.3" /><line x1="316.7" y1="179.05" x2="315.45" y2="181.22" stroke="#8a8c8e" stroke-width="0.3" /><line x1="316.7" y1="179.05" x2="314.2" y2="179.05" stroke="#8a8c8e" stroke-width="0.3" /><line x1="316.7" y1="179.05" x2="315.45" y2="176.88" stroke="#8a8c8e" stroke-width="0.3" /><line x1="316.7" y1="179.05" x2="317.95" y2="176.88" stroke="#8a8c8e" stroke-width="0.3" /><circle cx="316.7" cy="179.05" r="0.9" fill="#55595b"/>
<rect x="373.75" y="138.75" width="10" height="47.5" fill="#fff" stroke="#7d8082" stroke-width="0.5"/><path d="M377.35 146.35L380.55 144.93L380.55 173.43L377.35 172Z" fill="#fff" stroke="#55595b" stroke-width="0.5"/><circle cx="378.75" cy="181.5" r="2.1" fill="#6a6d6f" stroke="#35383a" stroke-width="0.4"/>
<rect x="316.25" y="192.5" width="35" height="12.5" fill="#fff" stroke="#7d8082" stroke-width="0.5"/><line x1="319.85" y1="194.3" x2="319.85" y2="203.2" stroke="#4a4e50" stroke-width="1.15" /><line x1="322.08" y1="194.3" x2="322.08" y2="203.2" stroke="#4a4e50" stroke-width="1.15" /><line x1="324.31" y1="194.3" x2="324.31" y2="203.2" stroke="#4a4e50" stroke-width="1.15" /><path d="M327.14 194.1Q325.64 198.75 327.14 203.4" fill="none" stroke="#55595b" stroke-width="0.5"/><line x1="328.77" y1="194.3" x2="328.77" y2="203.2" stroke="#4a4e50" stroke-width="1.15" /><line x1="331" y1="194.3" x2="331" y2="203.2" stroke="#4a4e50" stroke-width="1.15" /><line x1="333.23" y1="194.3" x2="333.23" y2="203.2" stroke="#4a4e50" stroke-width="1.15" /><path d="M336.07 194.1Q334.57 198.75 336.07 203.4" fill="none" stroke="#55595b" stroke-width="0.5"/><line x1="337.7" y1="194.3" x2="337.7" y2="203.2" stroke="#4a4e50" stroke-width="1.15" /><line x1="339.93" y1="194.3" x2="339.93" y2="203.2" stroke="#4a4e50" stroke-width="1.15" /><line x1="342.16" y1="194.3" x2="342.16" y2="203.2" stroke="#4a4e50" stroke-width="1.15" /><path d="M344.99 194.1Q343.49 198.75 344.99 203.4" fill="none" stroke="#55595b" stroke-width="0.5"/><line x1="346.62" y1="194.3" x2="346.62" y2="203.2" stroke="#4a4e50" stroke-width="1.15" /><line x1="348.85" y1="194.3" x2="348.85" y2="203.2" stroke="#4a4e50" stroke-width="1.15" /><line x1="317.25" y1="198.75" x2="350.25" y2="198.75" stroke="#d8d9da" stroke-width="0.5" />
<rect x="389" y="157" width="8.5" height="48" fill="#fff" stroke="#7d8082" stroke-width="0.5"/><path d="M392.06 164.68L394.78 163.24L394.78 192.04L392.06 190.6Z" fill="#fff" stroke="#55595b" stroke-width="0.5"/><circle cx="393.25" cy="200.2" r="2.1" fill="#6a6d6f" stroke="#35383a" stroke-width="0.4"/>
<g transform="translate(405,138) rotate(20)"><ellipse cx="0" cy="-4.59" rx="1.35" ry="3.85" fill="#3d4042" transform="rotate(0)"/><ellipse cx="0" cy="-4.59" rx="1.35" ry="3.85" fill="#3d4042" transform="rotate(72)"/><ellipse cx="0" cy="-4.59" rx="1.35" ry="3.85" fill="#3d4042" transform="rotate(144)"/><ellipse cx="0" cy="-4.59" rx="1.35" ry="3.85" fill="#3d4042" transform="rotate(216)"/><ellipse cx="0" cy="-4.59" rx="1.35" ry="3.85" fill="#3d4042" transform="rotate(288)"/><circle r="1.5" fill="#35383a"/><circle r="0.7" fill="#fff"/></g>
<g transform="translate(460,128) rotate(20)"><path d="M-5.6 3.2A6.45 6.45 0 1 1 5.6 3.2" fill="#fff" stroke="#7d8082" stroke-width="0.6"/><circle cx="0" cy="-0.5" r="4.9" fill="#fff" stroke="#6a6d6f" stroke-width="0.5"/></g><path d="M458.8 127.69L462.4 131.29L458.8 134.89L455.2 131.29Z" fill="#d96875"/><g transform="translate(490,128) rotate(-80)"><path d="M-5.6 3.2A6.45 6.45 0 1 1 5.6 3.2" fill="#fff" stroke="#7d8082" stroke-width="0.6"/><circle cx="0" cy="-0.5" r="4.9" fill="#fff" stroke="#6a6d6f" stroke-width="0.5"/></g><path d="M493.45 125.01L497.05 128.61L493.45 132.21L489.85 128.61Z" fill="#d96875"/><circle cx="475.5" cy="126.25" r="5.5" fill="#fff" stroke="#6a6d6f" stroke-width="0.55"/><circle cx="474.9" cy="126.25" r="1.2" fill="#fff" stroke="#35383a" stroke-width="0.7"/>
<circle cx="427.4" cy="188.3" r="15" fill="#fff" stroke="#6a6d6f" stroke-width="0.5"/><circle cx="427.4" cy="188.3" r="13.3" fill="none" stroke="#a9abad" stroke-width="0.4"/><rect x="424" y="167.9" width="15.6" height="12.5" fill="#d96875" stroke="#8f3541" stroke-width="0.35"/><rect x="437.6" y="162.8" width="18.4" height="47.2" fill="#d96875" stroke="#8f3541" stroke-width="0.45" rx="5.5"/><rect x="437.9" y="165.4" width="14.5" height="42" fill="#dd6875" stroke="#8f3541" stroke-width="0.3" rx="2.2"/><line x1="452.4" y1="179.79" x2="437.6" y2="179.79" stroke="#8f3541" stroke-width="0.3" /><line x1="452.4" y1="193.01" x2="437.6" y2="193.01" stroke="#8f3541" stroke-width="0.3" /><line x1="445.3" y1="165.4" x2="445.3" y2="193.01" stroke="#8f3541" stroke-width="0.25" />
<rect x="445" y="196" width="5" height="5" fill="#fff" transform="rotate(12 447 198)"/><rect x="444" y="191" width="5.5" height="5" fill="#c64e5c" transform="rotate(-8 447 193)"/>
<g transform="translate(494.4,170.5) rotate(0)"><rect x="-5.6" y="-3.8" width="11.2" height="8.6" fill="#d96875" stroke="#a93f4c" stroke-width="0.35" rx="2.4"/><path d="M-6.2 -2Q0 -7 6.2 -2L5.4 0.2Q0 -4.2 -5.4 0.2Z" fill="#cf5360" stroke="#8f3541" stroke-width="0.35"/></g>
<g transform="translate(481.8,182.3) rotate(-90)"><rect x="-5.6" y="-3.8" width="11.2" height="8.6" fill="#d96875" stroke="#a93f4c" stroke-width="0.35" rx="2.4"/><path d="M-6.2 -2Q0 -7 6.2 -2L5.4 0.2Q0 -4.2 -5.4 0.2Z" fill="#cf5360" stroke="#8f3541" stroke-width="0.35"/></g>
<g transform="translate(481.8,195.8) rotate(-90)"><rect x="-5.6" y="-3.8" width="11.2" height="8.6" fill="#d96875" stroke="#a93f4c" stroke-width="0.35" rx="2.4"/><path d="M-6.2 -2Q0 -7 6.2 -2L5.4 0.2Q0 -4.2 -5.4 0.2Z" fill="#cf5360" stroke="#8f3541" stroke-width="0.35"/></g>
<g transform="translate(495,207.8) rotate(180)"><rect x="-5.6" y="-3.8" width="11.2" height="8.6" fill="#d96875" stroke="#a93f4c" stroke-width="0.35" rx="2.4"/><path d="M-6.2 -2Q0 -7 6.2 -2L5.4 0.2Q0 -4.2 -5.4 0.2Z" fill="#cf5360" stroke="#8f3541" stroke-width="0.35"/></g>
<rect x="486.25" y="175" width="16.75" height="28.75" fill="#fff" stroke="#a9abad" stroke-width="0.4" rx="1.5"/><circle cx="494.62" cy="189.38" r="2.3" fill="#fff" stroke="#4a4e50" stroke-width="0.5"/><circle cx="494.62" cy="189.38" r="1" fill="#8a8c8e"/><circle cx="494.62" cy="183.38" r="1.1" fill="#6a6d6f"/><circle cx="494.62" cy="195.38" r="1.1" fill="#6a6d6f"/>
<path d="M462 244H487.5Q491.2 244 491.2 240V222H505V256.1H462Z" fill="#fff" stroke="#a9abad" stroke-width="0.4"/>
<rect x="461.9" y="243" width="12.7" height="13" fill="#fff" stroke="#4a4e50" stroke-width="0.6"/><circle cx="465.46" cy="246.64" r="2.16" fill="#fff" stroke="#4a4e50" stroke-width="0.4"/><circle cx="471.04" cy="246.64" r="2.16" fill="#fff" stroke="#4a4e50" stroke-width="0.4"/><circle cx="465.46" cy="252.36" r="2.16" fill="#fff" stroke="#4a4e50" stroke-width="0.4"/><circle cx="471.04" cy="252.36" r="2.16" fill="#fff" stroke="#4a4e50" stroke-width="0.4"/><circle cx="467.62" cy="249.5" r="2.54" fill="#9a9c9e" stroke="#4a4e50" stroke-width="0.4"/>
<g transform="translate(486.5,250.2) rotate(12)"><rect x="-5" y="-3.6" width="10" height="7.2" fill="#d96875" stroke="#b84452" stroke-width="0.3" rx="1"/><circle cx="1" cy="0" r="2.2" fill="#df7b86" stroke="#f3c3c8" stroke-width="0.4"/><circle cx="6.6" cy="0" r="1.8" fill="none" stroke="#55595b" stroke-width="0.6"/></g>
<rect x="492.3" y="223.5" width="11.2" height="18" fill="#fff" stroke="#4a4e50" stroke-width="0.5"/><rect x="493.6" y="230" width="8.6" height="10" fill="#fff" stroke="#4a4e50" stroke-width="0.35" rx="1"/><line x1="496" y1="233" x2="500" y2="237" stroke="#3a3d3f" stroke-width="0.7" /><rect x="493.6" y="224.5" width="8.6" height="4.3" fill="#e9e9ea" stroke="#9a9c9e" stroke-width="0.3"/>
<rect x="447.4" y="232.2" width="13.6" height="14.1" fill="#fff" stroke="#a9abad" stroke-width="0.4"/>
<rect x="360" y="237.5" width="15" height="8.75" fill="#85888a" stroke="#6d7072" stroke-width="0.3"/><line x1="363" y1="239.5" x2="363" y2="244.65" stroke="#fff" stroke-width="1.5" /><line x1="366" y1="239.5" x2="366" y2="244.65" stroke="#fff" stroke-width="1.5" /><line x1="369" y1="239.5" x2="369" y2="244.65" stroke="#fff" stroke-width="1.5" /><line x1="372" y1="239.5" x2="372" y2="244.65" stroke="#fff" stroke-width="1.5" />
<rect x="350" y="258.75" width="10" height="17.5" fill="#dc7480" stroke="#c55764" stroke-width="0.35" rx="1.5"/><rect x="351.2" y="259.95" width="7.6" height="15.1" fill="none" stroke="#eaa3ab" stroke-width="0.35" rx="1"/><rect x="352.4" y="270.85" width="3" height="1.2" fill="#fff"/><rect x="352.4" y="272.85" width="3" height="1.2" fill="#fff"/>
<rect x="347.5" y="285" width="10" height="31.25" fill="#fff" stroke="#7d8082" stroke-width="0.5"/><line x1="349.3" y1="288.6" x2="355.7" y2="288.6" stroke="#4a4e50" stroke-width="1.15" /><line x1="349.3" y1="290.9" x2="355.7" y2="290.9" stroke="#4a4e50" stroke-width="1.15" /><line x1="349.3" y1="293.19" x2="355.7" y2="293.19" stroke="#4a4e50" stroke-width="1.15" /><path d="M349.1 296.09Q352.5 294.59 355.9 296.09" fill="none" stroke="#55595b" stroke-width="0.5"/><line x1="349.3" y1="297.78" x2="355.7" y2="297.78" stroke="#4a4e50" stroke-width="1.15" /><line x1="349.3" y1="300.08" x2="355.7" y2="300.08" stroke="#4a4e50" stroke-width="1.15" /><line x1="349.3" y1="302.37" x2="355.7" y2="302.37" stroke="#4a4e50" stroke-width="1.15" /><path d="M349.1 305.27Q352.5 303.77 355.9 305.27" fill="none" stroke="#55595b" stroke-width="0.5"/><line x1="349.3" y1="306.96" x2="355.7" y2="306.96" stroke="#4a4e50" stroke-width="1.15" /><line x1="349.3" y1="309.26" x2="355.7" y2="309.26" stroke="#4a4e50" stroke-width="1.15" /><line x1="349.3" y1="311.55" x2="355.7" y2="311.55" stroke="#4a4e50" stroke-width="1.15" /><path d="M349.1 314.45Q352.5 312.95 355.9 314.45" fill="none" stroke="#55595b" stroke-width="0.5"/><line x1="352.5" y1="286" x2="352.5" y2="315.25" stroke="#d8d9da" stroke-width="0.5" />
<rect x="311.25" y="305" width="32.5" height="11.25" fill="#fff" stroke="#7d8082" stroke-width="0.5"/><line x1="314.85" y1="306.8" x2="314.85" y2="314.45" stroke="#4a4e50" stroke-width="1.15" /><line x1="317.26" y1="306.8" x2="317.26" y2="314.45" stroke="#4a4e50" stroke-width="1.15" /><line x1="319.67" y1="306.8" x2="319.67" y2="314.45" stroke="#4a4e50" stroke-width="1.15" /><path d="M322.68 306.6Q321.18 310.62 322.68 314.65" fill="none" stroke="#55595b" stroke-width="0.5"/><line x1="324.49" y1="306.8" x2="324.49" y2="314.45" stroke="#4a4e50" stroke-width="1.15" /><line x1="326.9" y1="306.8" x2="326.9" y2="314.45" stroke="#4a4e50" stroke-width="1.15" /><line x1="329.3" y1="306.8" x2="329.3" y2="314.45" stroke="#4a4e50" stroke-width="1.15" /><path d="M332.31 306.6Q330.81 310.62 332.31 314.65" fill="none" stroke="#55595b" stroke-width="0.5"/><line x1="334.12" y1="306.8" x2="334.12" y2="314.45" stroke="#4a4e50" stroke-width="1.15" /><line x1="336.53" y1="306.8" x2="336.53" y2="314.45" stroke="#4a4e50" stroke-width="1.15" /><line x1="338.94" y1="306.8" x2="338.94" y2="314.45" stroke="#4a4e50" stroke-width="1.15" /><path d="M341.95 306.6Q340.45 310.62 341.95 314.65" fill="none" stroke="#55595b" stroke-width="0.5"/><line x1="312.25" y1="310.62" x2="342.75" y2="310.62" stroke="#d8d9da" stroke-width="0.5" />
<g transform="translate(675,127.5) rotate(15)"><ellipse cx="0" cy="-4.59" rx="1.35" ry="3.85" fill="#3d4042" transform="rotate(0)"/><ellipse cx="0" cy="-4.59" rx="1.35" ry="3.85" fill="#3d4042" transform="rotate(72)"/><ellipse cx="0" cy="-4.59" rx="1.35" ry="3.85" fill="#3d4042" transform="rotate(144)"/><ellipse cx="0" cy="-4.59" rx="1.35" ry="3.85" fill="#3d4042" transform="rotate(216)"/><ellipse cx="0" cy="-4.59" rx="1.35" ry="3.85" fill="#3d4042" transform="rotate(288)"/><circle r="1.5" fill="#35383a"/><circle r="0.7" fill="#fff"/></g>
<g transform="translate(740.5,128.75) rotate(20)"><path d="M-5.6 3.2A6.45 6.45 0 1 1 5.6 3.2" fill="#fff" stroke="#7d8082" stroke-width="0.6"/><circle cx="0" cy="-0.5" r="4.9" fill="#fff" stroke="#6a6d6f" stroke-width="0.5"/></g><path d="M739.3 128.44L742.9 132.04L739.3 135.64L735.7 132.04Z" fill="#d96875"/><g transform="translate(770.5,128.75) rotate(-80)"><path d="M-5.6 3.2A6.45 6.45 0 1 1 5.6 3.2" fill="#fff" stroke="#7d8082" stroke-width="0.6"/><circle cx="0" cy="-0.5" r="4.9" fill="#fff" stroke="#6a6d6f" stroke-width="0.5"/></g><path d="M773.95 125.76L777.55 129.36L773.95 132.96L770.35 129.36Z" fill="#d96875"/><circle cx="755.5" cy="126.25" r="5.5" fill="#fff" stroke="#6a6d6f" stroke-width="0.55"/><circle cx="754.9" cy="126.25" r="1.2" fill="#fff" stroke="#35383a" stroke-width="0.7"/>
<g transform="translate(674.25,170) rotate(0)"><rect x="-5.6" y="-3.8" width="11.2" height="8.6" fill="#d96875" stroke="#a93f4c" stroke-width="0.35" rx="2.4"/><path d="M-6.2 -2Q0 -7 6.2 -2L5.4 0.2Q0 -4.2 -5.4 0.2Z" fill="#cf5360" stroke="#8f3541" stroke-width="0.35"/></g>
<g transform="translate(686.8,182) rotate(90)"><rect x="-5.6" y="-3.8" width="11.2" height="8.6" fill="#d96875" stroke="#a93f4c" stroke-width="0.35" rx="2.4"/><path d="M-6.2 -2Q0 -7 6.2 -2L5.4 0.2Q0 -4.2 -5.4 0.2Z" fill="#cf5360" stroke="#8f3541" stroke-width="0.35"/></g>
<g transform="translate(686.8,195.6) rotate(90)"><rect x="-5.6" y="-3.8" width="11.2" height="8.6" fill="#d96875" stroke="#a93f4c" stroke-width="0.35" rx="2.4"/><path d="M-6.2 -2Q0 -7 6.2 -2L5.4 0.2Q0 -4.2 -5.4 0.2Z" fill="#cf5360" stroke="#8f3541" stroke-width="0.35"/></g>
<g transform="translate(674.25,208.3) rotate(180)"><rect x="-5.6" y="-3.8" width="11.2" height="8.6" fill="#d96875" stroke="#a93f4c" stroke-width="0.35" rx="2.4"/><path d="M-6.2 -2Q0 -7 6.2 -2L5.4 0.2Q0 -4.2 -5.4 0.2Z" fill="#cf5360" stroke="#8f3541" stroke-width="0.35"/></g>
<rect x="665.5" y="176.25" width="16.5" height="28" fill="#fff" stroke="#a9abad" stroke-width="0.4" rx="1.5"/><circle cx="673.75" cy="190.25" r="2.3" fill="#fff" stroke="#4a4e50" stroke-width="0.5"/><circle cx="673.75" cy="190.25" r="1" fill="#8a8c8e"/><circle cx="673.75" cy="184.25" r="1.1" fill="#6a6d6f"/><circle cx="673.75" cy="196.25" r="1.1" fill="#6a6d6f"/>
<circle cx="741.5" cy="187.8" r="14.8" fill="#fff" stroke="#6a6d6f" stroke-width="0.5"/><circle cx="741.5" cy="187.8" r="13.1" fill="none" stroke="#a9abad" stroke-width="0.4"/><rect x="729.8" y="168" width="16.1" height="12" fill="#d96875" stroke="#8f3541" stroke-width="0.35"/><rect x="714.8" y="163.2" width="17" height="45.8" fill="#d96875" stroke="#8f3541" stroke-width="0.45" rx="5.5"/><rect x="718.4" y="165.8" width="13.1" height="40.6" fill="#dd6875" stroke="#8f3541" stroke-width="0.3" rx="2.2"/><line x1="718.4" y1="179.69" x2="731.8" y2="179.69" stroke="#8f3541" stroke-width="0.3" /><line x1="718.4" y1="192.51" x2="731.8" y2="192.51" stroke="#8f3541" stroke-width="0.3" /><line x1="724.8" y1="165.8" x2="724.8" y2="192.51" stroke="#8f3541" stroke-width="0.25" />
<rect x="719.5" y="196" width="5" height="5" fill="#fff" transform="rotate(-12 722 198)"/><rect x="720" y="191" width="5.5" height="5" fill="#c64e5c" transform="rotate(8 722 193)"/>
<rect x="775" y="157" width="10" height="50.5" fill="#fff" stroke="#7d8082" stroke-width="0.5"/><path d="M778.6 165.08L781.8 163.56L781.8 193.87L778.6 192.35Z" fill="#fff" stroke="#55595b" stroke-width="0.5"/><circle cx="780" cy="202.45" r="2.1" fill="#6a6d6f" stroke="#35383a" stroke-width="0.4"/>
<path d="M663.75 221.25H677.5V238.5Q677.5 242.5 681.5 242.5H746.25V255.5H663.75Z" fill="#fff" stroke="#a9abad" stroke-width="0.4"/>
<rect x="664.6" y="222.3" width="11.9" height="18.7" fill="#fff" stroke="#4a4e50" stroke-width="0.5"/><rect x="666" y="229.5" width="9.2" height="10" fill="#fff" stroke="#4a4e50" stroke-width="0.35" rx="1"/><line x1="668" y1="236.5" x2="672" y2="232.5" stroke="#3a3d3f" stroke-width="0.7" /><rect x="666" y="223.5" width="9.2" height="4.5" fill="#e9e9ea" stroke="#9a9c9e" stroke-width="0.3"/>
<g transform="translate(681.8,249) rotate(-15)"><rect x="-5" y="-3.6" width="10" height="7.2" fill="#d96875" stroke="#b84452" stroke-width="0.3" rx="1"/><circle cx="1" cy="0" r="2.2" fill="#df7b86" stroke="#f3c3c8" stroke-width="0.4"/><circle cx="6.6" cy="0" r="1.8" fill="none" stroke="#55595b" stroke-width="0.6"/></g>
<rect x="694.5" y="242.8" width="13.5" height="12.4" fill="#fff" stroke="#4a4e50" stroke-width="0.6"/><circle cx="698.28" cy="246.27" r="2.11" fill="#fff" stroke="#4a4e50" stroke-width="0.4"/><circle cx="704.22" cy="246.27" r="2.11" fill="#fff" stroke="#4a4e50" stroke-width="0.4"/><circle cx="698.28" cy="251.73" r="2.11" fill="#fff" stroke="#4a4e50" stroke-width="0.4"/><circle cx="704.22" cy="251.73" r="2.11" fill="#fff" stroke="#4a4e50" stroke-width="0.4"/><circle cx="700.58" cy="249" r="2.48" fill="#9a9c9e" stroke="#4a4e50" stroke-width="0.4"/>
<line x1="731.7" y1="242.5" x2="731.7" y2="255.5" stroke="#a9abad" stroke-width="0.4" />
<rect x="753.4" y="254.5" width="8.2" height="15.8" fill="#85888a" stroke="#6d7072" stroke-width="0.3"/><line x1="755.4" y1="257.5" x2="760" y2="257.5" stroke="#fff" stroke-width="1.5" /><line x1="755.4" y1="260.77" x2="760" y2="260.77" stroke="#fff" stroke-width="1.5" /><line x1="755.4" y1="264.03" x2="760" y2="264.03" stroke="#fff" stroke-width="1.5" /><line x1="755.4" y1="267.3" x2="760" y2="267.3" stroke="#fff" stroke-width="1.5" />
<rect x="696.4" y="358.8" width="9.2" height="13.8" fill="#85888a" stroke="#6d7072" stroke-width="0.3"/><line x1="698.4" y1="361.8" x2="704" y2="361.8" stroke="#fff" stroke-width="1.5" /><line x1="698.4" y1="364.4" x2="704" y2="364.4" stroke="#fff" stroke-width="1.5" /><line x1="698.4" y1="367" x2="704" y2="367" stroke="#fff" stroke-width="1.5" /><line x1="698.4" y1="369.6" x2="704" y2="369.6" stroke="#fff" stroke-width="1.5" />
<rect x="754" y="277.4" width="11" height="16.6" fill="#dc7480" stroke="#c55764" stroke-width="0.35" rx="1.5"/><rect x="755.2" y="278.6" width="8.6" height="14.2" fill="none" stroke="#eaa3ab" stroke-width="0.35" rx="1"/><rect x="756.4" y="288.6" width="3" height="1.2" fill="#fff"/><rect x="756.4" y="290.6" width="3" height="1.2" fill="#fff"/>
<rect x="753.6" y="305.5" width="31.8" height="9.3" fill="#fff" stroke="#7d8082" stroke-width="0.5"/><line x1="757.2" y1="307.3" x2="757.2" y2="313" stroke="#4a4e50" stroke-width="1.15" /><line x1="759.55" y1="307.3" x2="759.55" y2="313" stroke="#4a4e50" stroke-width="1.15" /><line x1="761.89" y1="307.3" x2="761.89" y2="313" stroke="#4a4e50" stroke-width="1.15" /><path d="M764.84 307.1Q763.34 310.15 764.84 313.2" fill="none" stroke="#55595b" stroke-width="0.5"/><line x1="766.58" y1="307.3" x2="766.58" y2="313" stroke="#4a4e50" stroke-width="1.15" /><line x1="768.93" y1="307.3" x2="768.93" y2="313" stroke="#4a4e50" stroke-width="1.15" /><line x1="771.27" y1="307.3" x2="771.27" y2="313" stroke="#4a4e50" stroke-width="1.15" /><path d="M774.22 307.1Q772.72 310.15 774.22 313.2" fill="none" stroke="#55595b" stroke-width="0.5"/><line x1="775.96" y1="307.3" x2="775.96" y2="313" stroke="#4a4e50" stroke-width="1.15" /><line x1="778.31" y1="307.3" x2="778.31" y2="313" stroke="#4a4e50" stroke-width="1.15" /><line x1="780.65" y1="307.3" x2="780.65" y2="313" stroke="#4a4e50" stroke-width="1.15" /><path d="M783.6 307.1Q782.1 310.15 783.6 313.2" fill="none" stroke="#55595b" stroke-width="0.5"/><line x1="754.6" y1="310.15" x2="784.4" y2="310.15" stroke="#d8d9da" stroke-width="0.5" />
<rect x="565" y="128.75" width="25" height="34.25" fill="#fff" stroke="#4a4e50" stroke-width="0.6"/>
<line x1="565" y1="128.75" x2="590" y2="163" stroke="#4a4e50" stroke-width="0.5" /><line x1="590" y1="128.75" x2="565" y2="163" stroke="#4a4e50" stroke-width="0.5" />
<rect x="558.75" y="129.75" width="4.75" height="21.25" fill="#fff" stroke="#8a8c8e" stroke-width="0.4"/>
<line x1="559.2" y1="131.75" x2="563" y2="131.75" stroke="#6a6d6f" stroke-width="0.5" />
<line x1="559.2" y1="135.4" x2="563" y2="135.4" stroke="#6a6d6f" stroke-width="0.5" />
<line x1="559.2" y1="139.05" x2="563" y2="139.05" stroke="#6a6d6f" stroke-width="0.5" />
<line x1="559.2" y1="142.7" x2="563" y2="142.7" stroke="#6a6d6f" stroke-width="0.5" />
<line x1="559.2" y1="146.35" x2="563" y2="146.35" stroke="#6a6d6f" stroke-width="0.5" />
<line x1="559.2" y1="150" x2="563" y2="150" stroke="#6a6d6f" stroke-width="0.5" />
<rect x="558.75" y="152" width="4.75" height="8" fill="#d0d1d2" stroke="#6a6d6f" stroke-width="0.4"/>
<rect x="565" y="175.5" width="25" height="52.5" fill="#fff" stroke="#4a4e50" stroke-width="0.6"/>
<line x1="565" y1="175.5" x2="590" y2="228" stroke="#4a4e50" stroke-width="0.5" /><line x1="590" y1="175.5" x2="565" y2="228" stroke="#4a4e50" stroke-width="0.5" />
<rect x="558.75" y="176.5" width="4.75" height="39.5" fill="#fff" stroke="#8a8c8e" stroke-width="0.4"/>
<line x1="559.2" y1="178.5" x2="563" y2="178.5" stroke="#6a6d6f" stroke-width="0.5" />
<line x1="559.2" y1="185.8" x2="563" y2="185.8" stroke="#6a6d6f" stroke-width="0.5" />
<line x1="559.2" y1="193.1" x2="563" y2="193.1" stroke="#6a6d6f" stroke-width="0.5" />
<line x1="559.2" y1="200.4" x2="563" y2="200.4" stroke="#6a6d6f" stroke-width="0.5" />
<line x1="559.2" y1="207.7" x2="563" y2="207.7" stroke="#6a6d6f" stroke-width="0.5" />
<line x1="559.2" y1="215" x2="563" y2="215" stroke="#6a6d6f" stroke-width="0.5" />
<rect x="558.75" y="217" width="4.75" height="8" fill="#d0d1d2" stroke="#6a6d6f" stroke-width="0.4"/>
<line x1="601" y1="163.7" x2="628" y2="163.7" stroke="#b9bbbc" stroke-width="0.7" />
<line x1="630.3" y1="163.7" x2="657.5" y2="163.7" stroke="#b9bbbc" stroke-width="0.7" />
<line x1="601" y1="170.8" x2="628" y2="170.8" stroke="#b9bbbc" stroke-width="0.7" />
<line x1="630.3" y1="170.8" x2="657.5" y2="170.8" stroke="#b9bbbc" stroke-width="0.7" />
<line x1="601" y1="177.9" x2="628" y2="177.9" stroke="#b9bbbc" stroke-width="0.7" />
<line x1="630.3" y1="177.9" x2="657.5" y2="177.9" stroke="#b9bbbc" stroke-width="0.7" />
<line x1="601" y1="185" x2="628" y2="185" stroke="#b9bbbc" stroke-width="0.7" />
<line x1="630.3" y1="185" x2="657.5" y2="185" stroke="#b9bbbc" stroke-width="0.7" />
<line x1="601" y1="192.1" x2="628" y2="192.1" stroke="#b9bbbc" stroke-width="0.7" />
<line x1="630.3" y1="192.1" x2="657.5" y2="192.1" stroke="#b9bbbc" stroke-width="0.7" />
<line x1="601" y1="199.2" x2="628" y2="199.2" stroke="#b9bbbc" stroke-width="0.7" />
<line x1="630.3" y1="199.2" x2="657.5" y2="199.2" stroke="#b9bbbc" stroke-width="0.7" />
<line x1="601" y1="206.3" x2="628" y2="206.3" stroke="#b9bbbc" stroke-width="0.7" />
<line x1="630.3" y1="206.3" x2="657.5" y2="206.3" stroke="#b9bbbc" stroke-width="0.7" />
<line x1="601" y1="213.4" x2="628" y2="213.4" stroke="#b9bbbc" stroke-width="0.7" />
<line x1="630.3" y1="213.4" x2="657.5" y2="213.4" stroke="#b9bbbc" stroke-width="0.7" />
<line x1="601" y1="220.5" x2="628" y2="220.5" stroke="#b9bbbc" stroke-width="0.7" />
<line x1="630.3" y1="220.5" x2="657.5" y2="220.5" stroke="#b9bbbc" stroke-width="0.7" />
<line x1="601" y1="227.6" x2="628" y2="227.6" stroke="#b9bbbc" stroke-width="0.7" />
<line x1="630.3" y1="227.6" x2="657.5" y2="227.6" stroke="#b9bbbc" stroke-width="0.7" />
<line x1="628" y1="163.7" x2="628" y2="227.7" stroke="#b9bbbc" stroke-width="0.6" /><line x1="630.3" y1="163.7" x2="630.3" y2="227.7" stroke="#b9bbbc" stroke-width="0.6" />
<line x1="614.6" y1="166" x2="614.6" y2="227" stroke="#6a6d6f" stroke-width="0.45" /><line x1="644" y1="164" x2="644" y2="226.5" stroke="#6a6d6f" stroke-width="0.45" />
<path d="M613.6 167.2L614.6 164.6L615.6 167.2Z" fill="#35383a"/>
<path d="M643 223.5L644 226.3L645 223.5Z" fill="#35383a"/><path d="M643 195L644 197.8L645 195Z" fill="#35383a"/>
<circle cx="614.6" cy="227.4" r="0.8" fill="#fff" stroke="#6a6d6f" stroke-width="0.4"/>
<line x1="629.5" y1="186.8" x2="657.3" y2="210.2" stroke="#fff" stroke-width="2.2" /><line x1="629.5" y1="185.9" x2="657.3" y2="209.3" stroke="#9a9c9e" stroke-width="0.5" /><line x1="629.5" y1="189.1" x2="657.3" y2="212.5" stroke="#9a9c9e" stroke-width="0.5" />
<line x1="641" y1="204" x2="647.5" y2="198.5" stroke="#9a9c9e" stroke-width="0.5" /><line x1="641.8" y1="198.2" x2="646.6" y2="204.5" stroke="#9a9c9e" stroke-width="0.5" />
<path d="M504.5 112.5V76.5H660V112.5" fill="none" stroke="#7d8082" stroke-width="0.6"/>
<path d="M506.8 112.5V79H657.7V112.5" fill="none" stroke="#7d8082" stroke-width="0.6"/>
<rect x="393.75" y="112.6" width="109.25" height="3" fill="#fff" stroke="#8a8c8e" stroke-width="0.5"/>
<rect x="666" y="112.6" width="118" height="3" fill="#fff" stroke="#8a8c8e" stroke-width="0.5"/>
<rect x="254" y="479" width="53" height="3" fill="#fff" stroke="#8a8c8e" stroke-width="0.5"/>
<rect x="792.5" y="479" width="53" height="3" fill="#fff" stroke="#8a8c8e" stroke-width="0.5"/>
<rect x="308.5" y="479" width="3" height="41.5" fill="#fff" stroke="#8a8c8e" stroke-width="0.5"/>
<rect x="788" y="479" width="3" height="41.5" fill="#fff" stroke="#8a8c8e" stroke-width="0.5"/>
<rect x="308.5" y="517.3" width="78.6" height="3.2" fill="#fff" stroke="#8a8c8e" stroke-width="0.5"/>
<rect x="712.4" y="517.3" width="78.6" height="3.2" fill="#fff" stroke="#8a8c8e" stroke-width="0.5"/>
<rect x="478" y="518" width="66.3" height="2.4" fill="#fff" stroke="#8a8c8e" stroke-width="0.5"/>
<rect x="232" y="112.5" width="20" height="10" fill="#2b2f31"/>
<rect x="232" y="112.5" width="5" height="370" fill="#2b2f31"/>
<rect x="290" y="112.5" width="37.5" height="9.5" fill="#2b2f31"/>
<rect x="367.5" y="112.5" width="26.25" height="9.5" fill="#2b2f31"/>
<rect x="383.75" y="112.5" width="10" height="42.5" fill="#2b2f31"/>
<rect x="393.75" y="148.75" width="13.25" height="6.25" fill="#2b2f31"/>
<rect x="384.8" y="155" width="3.2" height="54" fill="#2b2f31"/>
<rect x="307" y="121" width="3.5" height="111.5" fill="#2b2f31"/>
<rect x="307" y="188.9" width="7.3" height="44.5" fill="#2b2f31"/>
<rect x="305" y="230.8" width="2" height="2.6" fill="#2b2f31"/>
<rect x="310.5" y="206.6" width="41.1" height="2.4" fill="#2b2f31"/>
<rect x="372.7" y="206.6" width="15.3" height="2.4" fill="#2b2f31"/>
<rect x="237" y="230.8" width="46.3" height="2.4" fill="#2b2f31"/>
<rect x="280.2" y="230.8" width="3.1" height="16.7" fill="#2b2f31"/>
<rect x="280.2" y="266.6" width="3.1" height="24.1" fill="#2b2f31"/>
<rect x="280.2" y="309.7" width="3.1" height="28.3" fill="#2b2f31"/>
<rect x="237" y="335" width="47.7" height="3.3" fill="#2b2f31"/>
<rect x="307.5" y="280.5" width="3.75" height="52.5" fill="#2b2f31"/>
<rect x="307.5" y="280.5" width="12.5" height="2.5" fill="#2b2f31"/>
<rect x="338.75" y="280.5" width="25.15" height="2.5" fill="#2b2f31"/>
<rect x="358.2" y="278.8" width="5.7" height="54.5" fill="#2b2f31"/>
<rect x="307.5" y="316" width="56.4" height="4" fill="#2b2f31"/>
<rect x="311.25" y="320" width="46.95" height="9" fill="#2b2f31"/>
<rect x="307.5" y="328.6" width="89.5" height="5.2" fill="#2b2f31"/>
<rect x="421" y="328.5" width="130.2" height="5.1" fill="#2b2f31"/>
<rect x="576.6" y="328.4" width="101.9" height="5.2" fill="#2b2f31"/>
<rect x="702.5" y="328.5" width="50" height="5.3" fill="#2b2f31"/>
<rect x="307.5" y="333" width="5.5" height="145.75" fill="#2b2f31"/>
<rect x="232" y="437" width="19.25" height="7.5" fill="#2b2f31"/>
<rect x="287.5" y="437" width="20" height="7.5" fill="#2b2f31"/>
<rect x="232" y="478.75" width="21.75" height="3.75" fill="#2b2f31"/>
<rect x="307.5" y="471.25" width="32.5" height="7.5" fill="#2b2f31"/>
<rect x="371.25" y="472" width="23.75" height="6.75" fill="#2b2f31"/>
<rect x="391.1" y="401.25" width="3.6" height="118.75" fill="#2b2f31"/>
<rect x="387" y="478.75" width="7.7" height="41.25" fill="#2b2f31"/>
<rect x="391.25" y="401.25" width="8.75" height="3.75" fill="#2b2f31"/>
<rect x="386.25" y="510" width="26.25" height="10" fill="#2b2f31"/>
<rect x="376.4" y="332.5" width="3.8" height="26" fill="#2b2f31"/>
<rect x="376.4" y="355.4" width="17.35" height="3.4" fill="#2b2f31"/>
<rect x="391.4" y="355.4" width="2.35" height="18.1" fill="#2b2f31"/>
<rect x="424.2" y="333" width="3.1" height="29.4" fill="#2b2f31"/>
<rect x="424.2" y="381.8" width="3.1" height="23.2" fill="#2b2f31"/>
<rect x="422" y="401.2" width="49.5" height="3.7" fill="#2b2f31"/>
<rect x="471.4" y="332.5" width="4.3" height="187.5" fill="#2b2f31"/>
<rect x="471.4" y="471.9" width="36.5" height="7" fill="#2b2f31"/>
<rect x="471.4" y="472" width="6.6" height="48.3" fill="#2b2f31"/>
<rect x="453.75" y="511" width="24.25" height="9.3" fill="#2b2f31"/>
<rect x="532.6" y="333" width="2.6" height="39.8" fill="#2b2f31"/>
<rect x="532.7" y="402" width="20.1" height="3.3" fill="#2b2f31"/>
<rect x="548.8" y="402" width="4" height="77.5" fill="#2b2f31"/>
<rect x="539.1" y="471.3" width="13.7" height="7.6" fill="#2b2f31"/>
<rect x="544.3" y="478.9" width="8.5" height="41.4" fill="#2b2f31"/>
<rect x="578.5" y="328.2" width="3.3" height="30.8" fill="#2b2f31"/>
<rect x="578.5" y="378.8" width="3.3" height="26.2" fill="#2b2f31"/>
<rect x="576.6" y="401.4" width="101.9" height="3.6" fill="#2b2f31"/>
<rect x="624.1" y="332.5" width="4.6" height="187.5" fill="#2b2f31"/>
<rect x="610" y="511.25" width="35" height="8.75" fill="#2b2f31"/>
<rect x="704.8" y="401.25" width="3.6" height="118.75" fill="#2b2f31"/>
<rect x="704.8" y="478.75" width="7.7" height="41.25" fill="#2b2f31"/>
<rect x="699.5" y="401.25" width="9.25" height="3.75" fill="#2b2f31"/>
<rect x="687" y="510" width="26.25" height="10" fill="#2b2f31"/>
<rect x="719.3" y="332.5" width="3.8" height="26" fill="#2b2f31"/>
<rect x="705.75" y="355.4" width="17.35" height="3.4" fill="#2b2f31"/>
<rect x="705.75" y="355.4" width="2.35" height="18.1" fill="#2b2f31"/>
<rect x="671.8" y="333" width="3.4" height="29.4" fill="#2b2f31"/>
<rect x="671.8" y="381.8" width="3.4" height="23.2" fill="#2b2f31"/>
<rect x="786.25" y="302" width="5.75" height="180.5" fill="#2b2f31"/>
<rect x="758.75" y="471.25" width="33.75" height="8.25" fill="#2b2f31"/>
<rect x="704.5" y="471.25" width="23" height="8.25" fill="#2b2f31"/>
<rect x="862" y="112.5" width="5.5" height="370" fill="#2b2f31"/>
<rect x="791.25" y="437" width="20" height="7.5" fill="#2b2f31"/>
<rect x="848.75" y="437" width="18.75" height="7.5" fill="#2b2f31"/>
<rect x="845" y="478.75" width="22.5" height="3.75" fill="#2b2f31"/>
<rect x="814.3" y="335" width="48.2" height="3.3" fill="#2b2f31"/>
<rect x="816.3" y="231.4" width="3.2" height="15.8" fill="#2b2f31"/>
<rect x="816.3" y="267" width="3.2" height="23.5" fill="#2b2f31"/>
<rect x="816.3" y="309" width="3.2" height="29" fill="#2b2f31"/>
<rect x="816.3" y="231.4" width="46.2" height="2.2" fill="#2b2f31"/>
<rect x="648.8" y="112.5" width="17.5" height="9.2" fill="#2b2f31"/>
<rect x="658.2" y="112.5" width="8.1" height="43.5" fill="#2b2f31"/>
<rect x="658.2" y="156" width="5.9" height="123" fill="#2b2f31"/>
<rect x="662.5" y="148.8" width="35" height="7.2" fill="#2b2f31"/>
<rect x="771" y="148.8" width="14" height="7.2" fill="#2b2f31"/>
<rect x="782.6" y="112.5" width="26.9" height="10" fill="#2b2f31"/>
<rect x="783.3" y="112.5" width="7.4" height="46" fill="#2b2f31"/>
<rect x="785.4" y="158.5" width="3.9" height="73.7" fill="#2b2f31"/>
<rect x="785.75" y="229.6" width="9.75" height="2.6" fill="#2b2f31"/>
<rect x="847.5" y="112.5" width="20" height="10" fill="#2b2f31"/>
<rect x="501.2" y="112.5" width="17.5" height="9.9" fill="#2b2f31"/>
<rect x="502.5" y="112.5" width="7.7" height="43.5" fill="#2b2f31"/>
<rect x="504.7" y="156" width="5.5" height="129" fill="#2b2f31"/>
<rect x="468.9" y="149.2" width="37.1" height="7.05" fill="#2b2f31"/>
<rect x="541.5" y="112.3" width="83.4" height="10.2" fill="#2b2f31"/>
<rect x="549.4" y="122.5" width="5.3" height="12" fill="#2b2f31"/>
<rect x="549.4" y="156" width="5.3" height="42.3" fill="#2b2f31"/>
<rect x="549.4" y="165.6" width="51.6" height="6.4" fill="#2b2f31"/>
<rect x="595.4" y="122.5" width="5.6" height="156.5" fill="#2b2f31"/>
<rect x="549.5" y="230" width="5" height="11.25" fill="#2b2f31"/>
<rect x="549.5" y="235.5" width="51.75" height="5.75" fill="#2b2f31"/>
<rect x="585.3" y="240" width="10.95" height="39" fill="#2b2f31"/>
<rect x="600" y="263.7" width="64.1" height="5.9" fill="#2b2f31"/>
<rect x="537.5" y="279" width="163.7" height="6" fill="#2b2f31"/>
<rect x="358.6" y="246.1" width="102.6" height="8.4" fill="#2b2f31"/>
<rect x="412.1" y="252" width="49.4" height="33" fill="#2b2f31"/>
<rect x="461" y="256" width="53" height="29" fill="#2b2f31"/>
<rect x="658.4" y="255.6" width="93.8" height="5.7" fill="#2b2f31"/>
<rect x="658.4" y="261" width="88.6" height="10.5" fill="#2b2f31"/>
<rect x="658.4" y="271.5" width="42.8" height="13.1" fill="#2b2f31"/>
<rect x="746.3" y="235" width="5.9" height="39" fill="#2b2f31"/>
<rect x="748" y="250" width="5" height="22.5" fill="#2b2f31"/>
<rect x="746.3" y="297.8" width="5.9" height="34.9" fill="#2b2f31"/>
<rect x="752.2" y="315.7" width="38.3" height="5.9" fill="#2b2f31"/>
<rect x="752.2" y="321.6" width="37.8" height="11.1" fill="#2b2f31"/>
<rect x="443.3" y="333" width="68.4" height="11.5" fill="#2b2f31"/>
<rect x="596.7" y="333" width="60.3" height="11.5" fill="#2b2f31"/>
<rect x="414.7" y="254" width="19.5" height="11.8" fill="#ededee"/>
<rect x="437" y="254" width="19.8" height="11.8" fill="#ededee"/>
<rect x="414.7" y="268.8" width="19.5" height="10" fill="#ededee"/>
<rect x="437" y="268.8" width="19.8" height="10" fill="#ededee"/>
<rect x="460" y="262.2" width="7.9" height="16.6" fill="#ededee"/>
<rect x="470.8" y="259.9" width="21" height="8.7" fill="#ededee"/>
<rect x="495.9" y="259.9" width="8.9" height="8.7" fill="#ededee"/>
<rect x="470.8" y="275" width="8.2" height="3.8" fill="#ededee"/>
<rect x="482.7" y="275" width="22.1" height="3.8" fill="#ededee"/>
<rect x="313.75" y="321.25" width="8.75" height="6.25" fill="#ededee"/>
<rect x="325" y="321.25" width="23.75" height="6.25" fill="#ededee"/>
<rect x="663.8" y="262" width="9.4" height="8.3" fill="#ededee"/>
<rect x="675.7" y="262" width="21.3" height="8.3" fill="#ededee"/>
<rect x="702" y="262" width="17" height="8.3" fill="#ededee"/>
<rect x="721.6" y="262" width="5.1" height="8.3" fill="#ededee"/>
<rect x="729.3" y="262" width="16.1" height="8.3" fill="#ededee"/>
<rect x="663.8" y="275.7" width="33.2" height="3.3" fill="#ededee"/>
<rect x="753.6" y="322.5" width="20.8" height="7.5" fill="#ededee"/>
<rect x="777.4" y="322.5" width="8.6" height="7.5" fill="#ededee"/>
<rect x="446.5" y="334.1" width="3" height="8.5" fill="#ededee"/>
<rect x="451.5" y="334.1" width="7.4" height="8.5" fill="#ededee"/>
<rect x="461.9" y="334.1" width="8.9" height="8.5" fill="#ededee"/>
<rect x="476" y="334.1" width="8.2" height="8.5" fill="#ededee"/>
<rect x="487.2" y="334.1" width="13.8" height="8.5" fill="#ededee"/>
<rect x="504" y="334.1" width="5" height="8.5" fill="#ededee"/>
<rect x="599.6" y="334.1" width="13.1" height="8.5" fill="#ededee"/>
<rect x="615.7" y="334.1" width="7.8" height="8.5" fill="#ededee"/>
<rect x="629.1" y="334.1" width="8.5" height="8.5" fill="#ededee"/>
<rect x="640.6" y="334.1" width="13.4" height="8.5" fill="#ededee"/>
<rect x="587.7" y="241.6" width="8" height="3.5" fill="#fff"/>
<rect x="587.7" y="247.5" width="8" height="21.3" fill="#fff"/>
<rect x="587.7" y="271.7" width="8" height="6.9" fill="#fff"/>
<rect x="601" y="270.1" width="14.1" height="8.5" fill="#fff"/>
<rect x="618.3" y="270.1" width="39.3" height="8.5" fill="#fff"/>
<rect x="429.1" y="334.1" width="13.4" height="13.4" fill="#fff" stroke="#4a4e50" stroke-width="0.6"/><circle cx="435.8" cy="341.3" r="3.7" fill="#fff" stroke="#8a8c8e" stroke-width="0.5"/>
<rect x="582.5" y="334" width="12.7" height="13.5" fill="#fff" stroke="#4a4e50" stroke-width="0.6"/><circle cx="588.85" cy="341.25" r="3.35" fill="#fff" stroke="#8a8c8e" stroke-width="0.5"/>
<rect x="658.4" y="334" width="12.6" height="13.5" fill="#fff" stroke="#4a4e50" stroke-width="0.6"/><circle cx="664.7" cy="341.25" r="3.3" fill="#fff" stroke="#8a8c8e" stroke-width="0.5"/>
<rect x="252" y="112.8" width="38" height="9.2" fill="#fff" stroke="#8a8c8e" stroke-width="0.5"/>
<rect x="327.5" y="112.8" width="40" height="9.2" fill="#fff" stroke="#8a8c8e" stroke-width="0.5"/>
<rect x="809.5" y="112.8" width="38" height="9.2" fill="#fff" stroke="#8a8c8e" stroke-width="0.5"/>
<rect x="447.2" y="149.4" width="21.7" height="6.6" fill="#fff" stroke="#8a8c8e" stroke-width="0.5"/>
<rect x="407" y="149.25" width="21" height="5.75" fill="#fff" stroke="#8a8c8e" stroke-width="0.5"/>
<rect x="697.7" y="149.2" width="27.4" height="6.6" fill="#fff" stroke="#8a8c8e" stroke-width="0.5"/>
<rect x="744.3" y="149.2" width="26.7" height="6.6" fill="#fff" stroke="#8a8c8e" stroke-width="0.5"/>
<rect x="251.25" y="437.5" width="18.75" height="7" fill="#fff" stroke="#8a8c8e" stroke-width="0.5"/>
<rect x="340" y="472.5" width="13.75" height="6.25" fill="#fff" stroke="#8a8c8e" stroke-width="0.5"/>
<rect x="525.9" y="472.3" width="13.2" height="6.6" fill="#fff" stroke="#8a8c8e" stroke-width="0.5"/>
<rect x="727.5" y="472.5" width="13.75" height="6.25" fill="#fff" stroke="#8a8c8e" stroke-width="0.5"/>
<rect x="811.25" y="437.5" width="17.5" height="7" fill="#fff" stroke="#8a8c8e" stroke-width="0.5"/>
<rect x="412.5" y="510.5" width="41.25" height="9" fill="#fff" stroke="#8a8c8e" stroke-width="0.5"/>
<rect x="552.5" y="510.5" width="57.5" height="9" fill="#fff" stroke="#8a8c8e" stroke-width="0.5"/>
<rect x="645" y="510.5" width="42" height="9" fill="#fff" stroke="#8a8c8e" stroke-width="0.5"/>
<rect x="299.5" y="97.5" width="22.5" height="15" fill="#fff" stroke="#6a6d6f" stroke-width="0.6"/>
<rect x="302.2" y="99.9" width="17.1" height="7.6" fill="#fff" stroke="#6a6d6f" stroke-width="0.5"/>
<line x1="305.7" y1="107.5" x2="305.7" y2="112.5" stroke="#6a6d6f" stroke-width="0.5" />
<line x1="315.8" y1="107.5" x2="315.8" y2="112.5" stroke="#6a6d6f" stroke-width="0.5" />
<rect x="369" y="97.5" width="22" height="15" fill="#fff" stroke="#6a6d6f" stroke-width="0.6"/>
<rect x="371.7" y="99.9" width="16.6" height="7.6" fill="#fff" stroke="#6a6d6f" stroke-width="0.5"/>
<line x1="375.2" y1="107.5" x2="375.2" y2="112.5" stroke="#6a6d6f" stroke-width="0.5" />
<line x1="384.8" y1="107.5" x2="384.8" y2="112.5" stroke="#6a6d6f" stroke-width="0.5" />
<rect x="785" y="97.5" width="21.25" height="15" fill="#fff" stroke="#6a6d6f" stroke-width="0.6"/>
<rect x="787.7" y="99.9" width="15.85" height="7.6" fill="#fff" stroke="#6a6d6f" stroke-width="0.5"/>
<line x1="791.2" y1="107.5" x2="791.2" y2="112.5" stroke="#6a6d6f" stroke-width="0.5" />
<line x1="800.05" y1="107.5" x2="800.05" y2="112.5" stroke="#6a6d6f" stroke-width="0.5" />
<rect x="231.8" y="482" width="21.7" height="14.5" fill="#fff" stroke="#6a6d6f" stroke-width="0.6"/>
<rect x="234.5" y="487" width="16.3" height="7.1" fill="#fff" stroke="#6a6d6f" stroke-width="0.5"/>
<line x1="238" y1="482" x2="238" y2="487" stroke="#6a6d6f" stroke-width="0.5" />
<line x1="247.3" y1="482" x2="247.3" y2="487" stroke="#6a6d6f" stroke-width="0.5" />
<rect x="388" y="520.4" width="22.6" height="15.4" fill="#fff" stroke="#6a6d6f" stroke-width="0.6"/>
<rect x="390.7" y="525.4" width="17.2" height="8" fill="#fff" stroke="#6a6d6f" stroke-width="0.5"/>
<line x1="394.2" y1="520.4" x2="394.2" y2="525.4" stroke="#6a6d6f" stroke-width="0.5" />
<line x1="404.4" y1="520.4" x2="404.4" y2="525.4" stroke="#6a6d6f" stroke-width="0.5" />
<rect x="545.6" y="520.4" width="22.1" height="15" fill="#fff" stroke="#6a6d6f" stroke-width="0.6"/>
<rect x="548.3" y="525.4" width="16.7" height="7.6" fill="#fff" stroke="#6a6d6f" stroke-width="0.5"/>
<line x1="551.8" y1="520.4" x2="551.8" y2="525.4" stroke="#6a6d6f" stroke-width="0.5" />
<line x1="561.5" y1="520.4" x2="561.5" y2="525.4" stroke="#6a6d6f" stroke-width="0.5" />
<rect x="690" y="520.4" width="21.25" height="15.4" fill="#fff" stroke="#6a6d6f" stroke-width="0.6"/>
<rect x="692.7" y="525.4" width="15.85" height="8" fill="#fff" stroke="#6a6d6f" stroke-width="0.5"/>
<line x1="696.2" y1="520.4" x2="696.2" y2="525.4" stroke="#6a6d6f" stroke-width="0.5" />
<line x1="705.05" y1="520.4" x2="705.05" y2="525.4" stroke="#6a6d6f" stroke-width="0.5" />
<line x1="371.25" y1="206.25" x2="356.25" y2="195.5" stroke="#6f7375" stroke-width="1.4" />
<line x1="370.95" y1="206.03" x2="356.55" y2="195.72" stroke="#f4f4f5" stroke-width="0.6" />
<line x1="362.5" y1="198.81" x2="357.7" y2="195.37" stroke="#55595b" stroke-width="0.8" stroke-linecap="round"/>
<line x1="361.4" y1="200.36" x2="356.6" y2="196.92" stroke="#55595b" stroke-width="0.8" stroke-linecap="round"/>
<line x1="428.75" y1="151.25" x2="442.5" y2="158" stroke="#6f7375" stroke-width="1.4" />
<line x1="429.02" y1="151.38" x2="442.23" y2="157.87" stroke="#f4f4f5" stroke-width="0.6" />
<line x1="436.86" y1="156.29" x2="441.26" y2="158.45" stroke="#55595b" stroke-width="0.8" stroke-linecap="round"/>
<line x1="437.69" y1="154.58" x2="442.09" y2="156.74" stroke="#55595b" stroke-width="0.8" stroke-linecap="round"/>
<line x1="305" y1="231.25" x2="287.5" y2="220" stroke="#6f7375" stroke-width="1.4" />
<line x1="304.65" y1="231.03" x2="287.85" y2="220.22" stroke="#f4f4f5" stroke-width="0.6" />
<line x1="294.66" y1="223.48" x2="289.06" y2="219.88" stroke="#55595b" stroke-width="0.8" stroke-linecap="round"/>
<line x1="293.64" y1="225.07" x2="288.04" y2="221.47" stroke="#55595b" stroke-width="0.8" stroke-linecap="round"/>
<line x1="281.25" y1="266.25" x2="293.5" y2="249.4" stroke="#6f7375" stroke-width="1.4" />
<line x1="281.5" y1="265.91" x2="293.25" y2="249.74" stroke="#f4f4f5" stroke-width="0.6" />
<line x1="289.61" y1="256.36" x2="293.53" y2="250.97" stroke="#55595b" stroke-width="0.8" stroke-linecap="round"/>
<line x1="288.08" y1="255.24" x2="292" y2="249.85" stroke="#55595b" stroke-width="0.8" stroke-linecap="round"/>
<line x1="281.25" y1="308.75" x2="292.5" y2="293.75" stroke="#6f7375" stroke-width="1.4" />
<line x1="281.48" y1="308.45" x2="292.27" y2="294.05" stroke="#f4f4f5" stroke-width="0.6" />
<line x1="288.99" y1="300.02" x2="292.58" y2="295.22" stroke="#55595b" stroke-width="0.8" stroke-linecap="round"/>
<line x1="287.47" y1="298.88" x2="291.06" y2="294.08" stroke="#55595b" stroke-width="0.8" stroke-linecap="round"/>
<line x1="362.5" y1="256.25" x2="375" y2="276.25" stroke="#6f7375" stroke-width="1.4" />
<line x1="362.75" y1="256.65" x2="374.75" y2="275.85" stroke="#f4f4f5" stroke-width="0.6" />
<line x1="369.44" y1="269.15" x2="373.44" y2="275.55" stroke="#55595b" stroke-width="0.8" stroke-linecap="round"/>
<line x1="371.06" y1="268.15" x2="375.06" y2="274.55" stroke="#55595b" stroke-width="0.8" stroke-linecap="round"/>
<line x1="306.25" y1="336.25" x2="291.5" y2="348.75" stroke="#6f7375" stroke-width="1.4" />
<line x1="305.95" y1="336.5" x2="291.8" y2="348.5" stroke="#f4f4f5" stroke-width="0.6" />
<line x1="296.49" y1="343.28" x2="291.77" y2="347.28" stroke="#55595b" stroke-width="0.8" stroke-linecap="round"/>
<line x1="297.72" y1="344.72" x2="293" y2="348.72" stroke="#55595b" stroke-width="0.8" stroke-linecap="round"/>
<line x1="397.5" y1="332.5" x2="417.5" y2="320" stroke="#6f7375" stroke-width="1.4" />
<line x1="397.9" y1="332.25" x2="417.1" y2="320.25" stroke="#f4f4f5" stroke-width="0.6" />
<line x1="410.4" y1="325.56" x2="416.8" y2="321.56" stroke="#55595b" stroke-width="0.8" stroke-linecap="round"/>
<line x1="409.4" y1="323.94" x2="415.8" y2="319.94" stroke="#55595b" stroke-width="0.8" stroke-linecap="round"/>
<line x1="426.25" y1="381.25" x2="412.5" y2="365" stroke="#6f7375" stroke-width="1.4" />
<line x1="425.98" y1="380.93" x2="412.77" y2="365.32" stroke="#f4f4f5" stroke-width="0.6" />
<line x1="418.45" y1="370.56" x2="414.05" y2="365.36" stroke="#55595b" stroke-width="0.8" stroke-linecap="round"/>
<line x1="417" y1="371.79" x2="412.6" y2="366.59" stroke="#55595b" stroke-width="0.8" stroke-linecap="round"/>
<line x1="398.75" y1="403.75" x2="417.5" y2="412.5" stroke="#6f7375" stroke-width="1.4" />
<line x1="399.12" y1="403.93" x2="417.12" y2="412.32" stroke="#f4f4f5" stroke-width="0.6" />
<line x1="409.97" y1="410.04" x2="415.97" y2="412.84" stroke="#55595b" stroke-width="0.8" stroke-linecap="round"/>
<line x1="410.78" y1="408.31" x2="416.78" y2="411.11" stroke="#55595b" stroke-width="0.8" stroke-linecap="round"/>
<line x1="286.25" y1="442.5" x2="274.5" y2="433.75" stroke="#6f7375" stroke-width="1.4" />
<line x1="286.01" y1="442.32" x2="274.74" y2="433.93" stroke="#f4f4f5" stroke-width="0.6" />
<line x1="279.53" y1="436.31" x2="275.77" y2="433.51" stroke="#55595b" stroke-width="0.8" stroke-linecap="round"/>
<line x1="278.4" y1="437.84" x2="274.64" y2="435.04" stroke="#55595b" stroke-width="0.8" stroke-linecap="round"/>
<line x1="370" y1="477.5" x2="356.25" y2="467.5" stroke="#6f7375" stroke-width="1.4" />
<line x1="369.73" y1="477.3" x2="356.52" y2="467.7" stroke="#f4f4f5" stroke-width="0.6" />
<line x1="362.03" y1="470.53" x2="357.63" y2="467.33" stroke="#55595b" stroke-width="0.8" stroke-linecap="round"/>
<line x1="360.92" y1="472.07" x2="356.52" y2="468.87" stroke="#55595b" stroke-width="0.8" stroke-linecap="round"/>
<line x1="518.75" y1="115.5" x2="540" y2="105" stroke="#6f7375" stroke-width="1.4" />
<line x1="519.17" y1="115.29" x2="539.58" y2="105.21" stroke="#f4f4f5" stroke-width="0.6" />
<line x1="532.35" y1="109.84" x2="539.15" y2="106.48" stroke="#55595b" stroke-width="0.8" stroke-linecap="round"/>
<line x1="531.5" y1="108.14" x2="538.3" y2="104.78" stroke="#55595b" stroke-width="0.8" stroke-linecap="round"/>
<line x1="650" y1="118" x2="628.75" y2="129.5" stroke="#6f7375" stroke-width="1.4" />
<line x1="649.58" y1="118.23" x2="629.17" y2="129.27" stroke="#f4f4f5" stroke-width="0.6" />
<line x1="636.37" y1="124.29" x2="629.57" y2="127.97" stroke="#55595b" stroke-width="0.8" stroke-linecap="round"/>
<line x1="637.28" y1="125.97" x2="630.48" y2="129.65" stroke="#55595b" stroke-width="0.8" stroke-linecap="round"/>
<line x1="515" y1="281.25" x2="536.25" y2="271.25" stroke="#6f7375" stroke-width="1.4" />
<line x1="515.42" y1="281.05" x2="535.83" y2="271.45" stroke="#f4f4f5" stroke-width="0.6" />
<line x1="528.58" y1="275.91" x2="535.38" y2="272.71" stroke="#55595b" stroke-width="0.8" stroke-linecap="round"/>
<line x1="527.77" y1="274.19" x2="534.57" y2="270.99" stroke="#55595b" stroke-width="0.8" stroke-linecap="round"/>
<line x1="577.5" y1="328.75" x2="557.5" y2="315" stroke="#6f7375" stroke-width="1.4" />
<line x1="577.1" y1="328.48" x2="557.9" y2="315.27" stroke="#f4f4f5" stroke-width="0.6" />
<line x1="565.64" y1="319.44" x2="559.24" y2="315.04" stroke="#55595b" stroke-width="0.8" stroke-linecap="round"/>
<line x1="564.56" y1="321.01" x2="558.16" y2="316.61" stroke="#55595b" stroke-width="0.8" stroke-linecap="round"/>
<line x1="581.25" y1="380" x2="566.25" y2="362.5" stroke="#6f7375" stroke-width="1.4" />
<line x1="580.95" y1="379.65" x2="566.55" y2="362.85" stroke="#f4f4f5" stroke-width="0.6" />
<line x1="572.67" y1="368.53" x2="567.87" y2="362.93" stroke="#55595b" stroke-width="0.8" stroke-linecap="round"/>
<line x1="571.23" y1="369.77" x2="566.43" y2="364.17" stroke="#55595b" stroke-width="0.8" stroke-linecap="round"/>
<line x1="555" y1="403.75" x2="574.5" y2="410" stroke="#6f7375" stroke-width="1.4" />
<line x1="555.39" y1="403.88" x2="574.11" y2="409.88" stroke="#f4f4f5" stroke-width="0.6" />
<line x1="566.8" y1="408.53" x2="573.04" y2="410.53" stroke="#55595b" stroke-width="0.8" stroke-linecap="round"/>
<line x1="567.38" y1="406.72" x2="573.62" y2="408.72" stroke="#55595b" stroke-width="0.8" stroke-linecap="round"/>
<line x1="508.75" y1="476.25" x2="521.25" y2="470" stroke="#6f7375" stroke-width="1.4" />
<line x1="509" y1="476.12" x2="521" y2="470.12" stroke="#f4f4f5" stroke-width="0.6" />
<line x1="516.92" y1="473.22" x2="520.92" y2="471.22" stroke="#55595b" stroke-width="0.8" stroke-linecap="round"/>
<line x1="516.08" y1="471.53" x2="520.08" y2="469.53" stroke="#55595b" stroke-width="0.8" stroke-linecap="round"/>
<line x1="742" y1="149.8" x2="728.6" y2="158.9" stroke="#6f7375" stroke-width="1.4" />
<line x1="741.73" y1="149.98" x2="728.87" y2="158.72" stroke="#f4f4f5" stroke-width="0.6" />
<line x1="733.16" y1="154.66" x2="728.87" y2="157.57" stroke="#55595b" stroke-width="0.8" stroke-linecap="round"/>
<line x1="734.23" y1="156.23" x2="729.94" y2="159.14" stroke="#55595b" stroke-width="0.8" stroke-linecap="round"/>
<line x1="793.75" y1="231.25" x2="813.75" y2="220" stroke="#6f7375" stroke-width="1.4" />
<line x1="794.15" y1="231.03" x2="813.35" y2="220.22" stroke="#f4f4f5" stroke-width="0.6" />
<line x1="806.62" y1="225.1" x2="813.02" y2="221.5" stroke="#55595b" stroke-width="0.8" stroke-linecap="round"/>
<line x1="805.68" y1="223.45" x2="812.08" y2="219.85" stroke="#55595b" stroke-width="0.8" stroke-linecap="round"/>
<line x1="817" y1="266.25" x2="805" y2="250" stroke="#6f7375" stroke-width="1.4" />
<line x1="816.76" y1="265.93" x2="805.24" y2="250.32" stroke="#f4f4f5" stroke-width="0.6" />
<line x1="810.32" y1="255.61" x2="806.48" y2="250.41" stroke="#55595b" stroke-width="0.8" stroke-linecap="round"/>
<line x1="808.8" y1="256.74" x2="804.96" y2="251.54" stroke="#55595b" stroke-width="0.8" stroke-linecap="round"/>
<line x1="817" y1="308.75" x2="805" y2="292.5" stroke="#6f7375" stroke-width="1.4" />
<line x1="816.76" y1="308.43" x2="805.24" y2="292.82" stroke="#f4f4f5" stroke-width="0.6" />
<line x1="810.32" y1="298.11" x2="806.48" y2="292.91" stroke="#55595b" stroke-width="0.8" stroke-linecap="round"/>
<line x1="808.8" y1="299.24" x2="804.96" y2="294.04" stroke="#55595b" stroke-width="0.8" stroke-linecap="round"/>
<line x1="746.25" y1="275" x2="735" y2="295" stroke="#6f7375" stroke-width="1.4" />
<line x1="746.02" y1="275.4" x2="735.23" y2="294.6" stroke="#f4f4f5" stroke-width="0.6" />
<line x1="738.45" y1="286.93" x2="734.85" y2="293.33" stroke="#55595b" stroke-width="0.8" stroke-linecap="round"/>
<line x1="740.1" y1="287.87" x2="736.5" y2="294.27" stroke="#55595b" stroke-width="0.8" stroke-linecap="round"/>
<line x1="702.5" y1="330" x2="683.75" y2="315.5" stroke="#6f7375" stroke-width="1.4" />
<line x1="702.12" y1="329.71" x2="684.12" y2="315.79" stroke="#f4f4f5" stroke-width="0.6" />
<line x1="691.46" y1="320.26" x2="685.46" y2="315.62" stroke="#55595b" stroke-width="0.8" stroke-linecap="round"/>
<line x1="690.29" y1="321.76" x2="684.29" y2="317.12" stroke="#55595b" stroke-width="0.8" stroke-linecap="round"/>
<line x1="793.75" y1="336.25" x2="810" y2="350" stroke="#6f7375" stroke-width="1.4" />
<line x1="794.08" y1="336.52" x2="809.67" y2="349.73" stroke="#f4f4f5" stroke-width="0.6" />
<line x1="803.21" y1="345.5" x2="808.41" y2="349.9" stroke="#55595b" stroke-width="0.8" stroke-linecap="round"/>
<line x1="804.44" y1="344.05" x2="809.64" y2="348.45" stroke="#55595b" stroke-width="0.8" stroke-linecap="round"/>
<line x1="673" y1="381.25" x2="687.5" y2="360" stroke="#6f7375" stroke-width="1.4" />
<line x1="673.29" y1="380.82" x2="687.21" y2="360.43" stroke="#f4f4f5" stroke-width="0.6" />
<line x1="682.77" y1="368.61" x2="687.41" y2="361.81" stroke="#55595b" stroke-width="0.8" stroke-linecap="round"/>
<line x1="681.21" y1="367.54" x2="685.85" y2="360.74" stroke="#55595b" stroke-width="0.8" stroke-linecap="round"/>
<line x1="702.5" y1="402.5" x2="682.5" y2="411.25" stroke="#6f7375" stroke-width="1.4" />
<line x1="702.1" y1="402.68" x2="682.9" y2="411.07" stroke="#f4f4f5" stroke-width="0.6" />
<line x1="689.72" y1="407.05" x2="683.32" y2="409.85" stroke="#55595b" stroke-width="0.8" stroke-linecap="round"/>
<line x1="690.48" y1="408.8" x2="684.08" y2="411.6" stroke="#55595b" stroke-width="0.8" stroke-linecap="round"/>
<line x1="847.5" y1="443.75" x2="833.75" y2="435" stroke="#6f7375" stroke-width="1.4" />
<line x1="847.23" y1="443.57" x2="834.02" y2="435.18" stroke="#f4f4f5" stroke-width="0.6" />
<line x1="839.49" y1="437.52" x2="835.09" y2="434.72" stroke="#55595b" stroke-width="0.8" stroke-linecap="round"/>
<line x1="838.46" y1="439.13" x2="834.06" y2="436.33" stroke="#55595b" stroke-width="0.8" stroke-linecap="round"/>
<line x1="758.75" y1="477.5" x2="746.25" y2="468.75" stroke="#6f7375" stroke-width="1.4" />
<line x1="758.5" y1="477.32" x2="746.5" y2="468.93" stroke="#f4f4f5" stroke-width="0.6" />
<line x1="751.54" y1="471.3" x2="747.54" y2="468.5" stroke="#55595b" stroke-width="0.8" stroke-linecap="round"/>
<line x1="750.46" y1="472.85" x2="746.46" y2="470.05" stroke="#55595b" stroke-width="0.8" stroke-linecap="round"/>
<text x="274.5" y="147.3" font-size="6" font-weight="normal" text-anchor="start" fill="#333638" stroke="#333638" stroke-width="0.18" textLength="14.4" lengthAdjust="spacingAndGlyphs">12,98</text>
<text x="367" y="132.3" font-size="6" font-weight="normal" text-anchor="start" fill="#333638" stroke="#333638" stroke-width="0.18" textLength="14.4" lengthAdjust="spacingAndGlyphs">10,47</text>
<text x="402" y="124.4" font-size="6" font-weight="normal" text-anchor="start" fill="#333638" stroke="#333638" stroke-width="0.18" textLength="11.3" lengthAdjust="spacingAndGlyphs">6,28</text>
<text x="401.25" y="165.3" font-size="6" font-weight="normal" text-anchor="start" fill="#333638" stroke="#333638" stroke-width="0.18" textLength="14.4" lengthAdjust="spacingAndGlyphs">11,49</text>
<text x="321.7" y="219.2" font-size="6" font-weight="normal" text-anchor="start" fill="#333638" stroke="#333638" stroke-width="0.18" textLength="14.4" lengthAdjust="spacingAndGlyphs">12,20</text>
<text x="467.5" y="164.8" font-size="6" font-weight="normal" text-anchor="start" fill="#333638" stroke="#333638" stroke-width="0.18" textLength="11.3" lengthAdjust="spacingAndGlyphs">7,32</text>
<text x="241.25" y="241.8" font-size="6" font-weight="normal" text-anchor="start" fill="#333638" stroke="#333638" stroke-width="0.18" textLength="11.3" lengthAdjust="spacingAndGlyphs">2,55</text>
<text x="253.75" y="293.5" font-size="6" font-weight="normal" text-anchor="start" fill="#333638" stroke="#333638" stroke-width="0.18" textLength="11.3" lengthAdjust="spacingAndGlyphs">4,02</text>
<text x="319.5" y="296" font-size="6" font-weight="normal" text-anchor="start" fill="#333638" stroke="#333638" stroke-width="0.18" textLength="11.3" lengthAdjust="spacingAndGlyphs">2,63</text>
<text x="347.4" y="360" font-size="6" font-weight="normal" text-anchor="start" fill="#333638" stroke="#333638" stroke-width="0.18" textLength="11.3" lengthAdjust="spacingAndGlyphs">8,46</text>
<text x="410.5" y="356.3" font-size="6" font-weight="normal" text-anchor="start" fill="#333638" stroke="#333638" stroke-width="0.18" textLength="11.3" lengthAdjust="spacingAndGlyphs">4,14</text>
<text x="432.1" y="356.3" font-size="6" font-weight="normal" text-anchor="start" fill="#333638" stroke="#333638" stroke-width="0.18" textLength="11.3" lengthAdjust="spacingAndGlyphs">4,44</text>
<text x="258.75" y="417.3" font-size="6" font-weight="normal" text-anchor="start" fill="#333638" stroke="#333638" stroke-width="0.18" textLength="14.4" lengthAdjust="spacingAndGlyphs">12,11</text>
<text x="367.3" y="464.6" font-size="6" font-weight="normal" text-anchor="start" fill="#333638" stroke="#333638" stroke-width="0.18" textLength="11.3" lengthAdjust="spacingAndGlyphs">9,19</text>
<text x="243" y="454.3" font-size="6" font-weight="normal" text-anchor="start" fill="#333638" stroke="#333638" stroke-width="0.18" textLength="11.3" lengthAdjust="spacingAndGlyphs">4,03</text>
<text x="367" y="489.3" font-size="6" font-weight="normal" text-anchor="start" fill="#333638" stroke="#333638" stroke-width="0.18" textLength="11.3" lengthAdjust="spacingAndGlyphs">5,07</text>
<text x="417.2" y="498.8" font-size="6" font-weight="normal" text-anchor="start" fill="#333638" stroke="#333638" stroke-width="0.18" textLength="14.4" lengthAdjust="spacingAndGlyphs">13,82</text>
<text x="499" y="367.9" font-size="6" font-weight="normal" text-anchor="start" fill="#333638" stroke="#333638" stroke-width="0.18" textLength="11.3" lengthAdjust="spacingAndGlyphs">3,17</text>
<text x="563.9" y="354.6" font-size="6" font-weight="normal" text-anchor="start" fill="#333638" stroke="#333638" stroke-width="0.18" textLength="11.3" lengthAdjust="spacingAndGlyphs">4,96</text>
<text x="587" y="356.5" font-size="6" font-weight="normal" text-anchor="start" fill="#333638" stroke="#333638" stroke-width="0.18" textLength="11.3" lengthAdjust="spacingAndGlyphs">4,39</text>
<text x="657" y="356.5" font-size="6" font-weight="normal" text-anchor="start" fill="#333638" stroke="#333638" stroke-width="0.18" textLength="11.3" lengthAdjust="spacingAndGlyphs">4,39</text>
<text x="600" y="425.8" font-size="6" font-weight="normal" text-anchor="start" fill="#333638" stroke="#333638" stroke-width="0.18" textLength="14.4" lengthAdjust="spacingAndGlyphs">12,94</text>
<text x="522.4" y="464.7" font-size="6" font-weight="normal" text-anchor="start" fill="#333638" stroke="#333638" stroke-width="0.18" textLength="14.4" lengthAdjust="spacingAndGlyphs">11,65</text>
<text x="525.5" y="511.3" font-size="6" font-weight="normal" text-anchor="start" fill="#333638" stroke="#333638" stroke-width="0.18" textLength="11.3" lengthAdjust="spacingAndGlyphs">4,47</text>
<text x="680" y="142.3" font-size="6" font-weight="normal" text-anchor="start" fill="#333638" stroke="#333638" stroke-width="0.18" textLength="11.3" lengthAdjust="spacingAndGlyphs">6,81</text>
<text x="812.5" y="136" font-size="6" font-weight="normal" text-anchor="start" fill="#333638" stroke="#333638" stroke-width="0.18" textLength="14.4" lengthAdjust="spacingAndGlyphs">13,85</text>
<text x="682.3" y="220.6" font-size="6" font-weight="normal" text-anchor="start" fill="#333638" stroke="#333638" stroke-width="0.18" textLength="11.3" lengthAdjust="spacingAndGlyphs">5,75</text>
<text x="767.5" y="226.8" font-size="6" font-weight="normal" text-anchor="start" fill="#333638" stroke="#333638" stroke-width="0.18" textLength="14.4" lengthAdjust="spacingAndGlyphs">13,69</text>
<text x="799.5" y="246" font-size="6" font-weight="normal" text-anchor="start" fill="#333638" stroke="#333638" stroke-width="0.18" textLength="11.3" lengthAdjust="spacingAndGlyphs">9,89</text>
<text x="846.25" y="241.8" font-size="6" font-weight="normal" text-anchor="start" fill="#333638" stroke="#333638" stroke-width="0.18" textLength="11.3" lengthAdjust="spacingAndGlyphs">2,57</text>
<text x="834.5" y="295.3" font-size="6" font-weight="normal" text-anchor="start" fill="#333638" stroke="#333638" stroke-width="0.18" textLength="11.3" lengthAdjust="spacingAndGlyphs">4,02</text>
<text x="678.5" y="356.5" font-size="6" font-weight="normal" text-anchor="start" fill="#333638" stroke="#333638" stroke-width="0.18" textLength="11.3" lengthAdjust="spacingAndGlyphs">4,08</text>
<text x="729.5" y="357.4" font-size="6" font-weight="normal" text-anchor="start" fill="#333638" stroke="#333638" stroke-width="0.18" textLength="11.3" lengthAdjust="spacingAndGlyphs">8,55</text>
<text x="827" y="416.8" font-size="6" font-weight="normal" text-anchor="start" fill="#333638" stroke="#333638" stroke-width="0.18" textLength="14.4" lengthAdjust="spacingAndGlyphs">11,87</text>
<text x="722.5" y="466.8" font-size="6" font-weight="normal" text-anchor="start" fill="#333638" stroke="#333638" stroke-width="0.18" textLength="11.3" lengthAdjust="spacingAndGlyphs">9,28</text>
<text x="721.25" y="489.3" font-size="6" font-weight="normal" text-anchor="start" fill="#333638" stroke="#333638" stroke-width="0.18" textLength="11.3" lengthAdjust="spacingAndGlyphs">5,04</text>
<text x="667.8" y="499.3" font-size="6" font-weight="normal" text-anchor="start" fill="#333638" stroke="#333638" stroke-width="0.18" textLength="14.4" lengthAdjust="spacingAndGlyphs">13,72</text>
<text x="845.5" y="454.3" font-size="6" font-weight="normal" text-anchor="start" fill="#333638" stroke="#333638" stroke-width="0.18" textLength="11.3" lengthAdjust="spacingAndGlyphs">4,19</text>
<text x="326" y="250.2" font-size="10.6" font-weight="bold" text-anchor="middle" fill="#1f2123" >3к</text>
<line x1="316.2" y1="253.1" x2="335.8" y2="253.1" stroke="#1f2123" stroke-width="0.8" />
<text x="326" y="261.4" font-size="7.6" font-weight="bold" text-anchor="middle" fill="#1f2123" textLength="19.5" lengthAdjust="spacingAndGlyphs">86,08</text>
<text x="360" y="419.3" font-size="10.6" font-weight="bold" text-anchor="middle" fill="#1f2123" >1к</text>
<line x1="350.2" y1="422.2" x2="369.8" y2="422.2" stroke="#1f2123" stroke-width="0.8" />
<text x="360" y="430.5" font-size="7.6" font-weight="bold" text-anchor="middle" fill="#1f2123" textLength="19.5" lengthAdjust="spacingAndGlyphs">45,12</text>
<text x="554.5" y="379.6" font-size="10.6" font-weight="bold" text-anchor="middle" fill="#1f2123" >1к</text>
<line x1="544.7" y1="382.5" x2="564.3" y2="382.5" stroke="#1f2123" stroke-width="0.8" />
<text x="554.5" y="390.8" font-size="7.6" font-weight="bold" text-anchor="middle" fill="#1f2123" textLength="19.5" lengthAdjust="spacingAndGlyphs">41,58</text>
<text x="787.5" y="268.6" font-size="10.6" font-weight="bold" text-anchor="middle" fill="#1f2123" >2к</text>
<line x1="777.7" y1="271.5" x2="797.3" y2="271.5" stroke="#1f2123" stroke-width="0.8" />
<text x="787.5" y="279.8" font-size="7.6" font-weight="bold" text-anchor="middle" fill="#1f2123" textLength="19.5" lengthAdjust="spacingAndGlyphs">72,64</text>
<text x="736.5" y="416.3" font-size="10.6" font-weight="bold" text-anchor="middle" fill="#1f2123" >1к</text>
<line x1="726.7" y1="419.2" x2="746.3" y2="419.2" stroke="#1f2123" stroke-width="0.8" />
<text x="736.5" y="427.5" font-size="7.6" font-weight="bold" text-anchor="middle" fill="#1f2123" textLength="19.5" lengthAdjust="spacingAndGlyphs">45,06</text>
</svg>
</body></html>
